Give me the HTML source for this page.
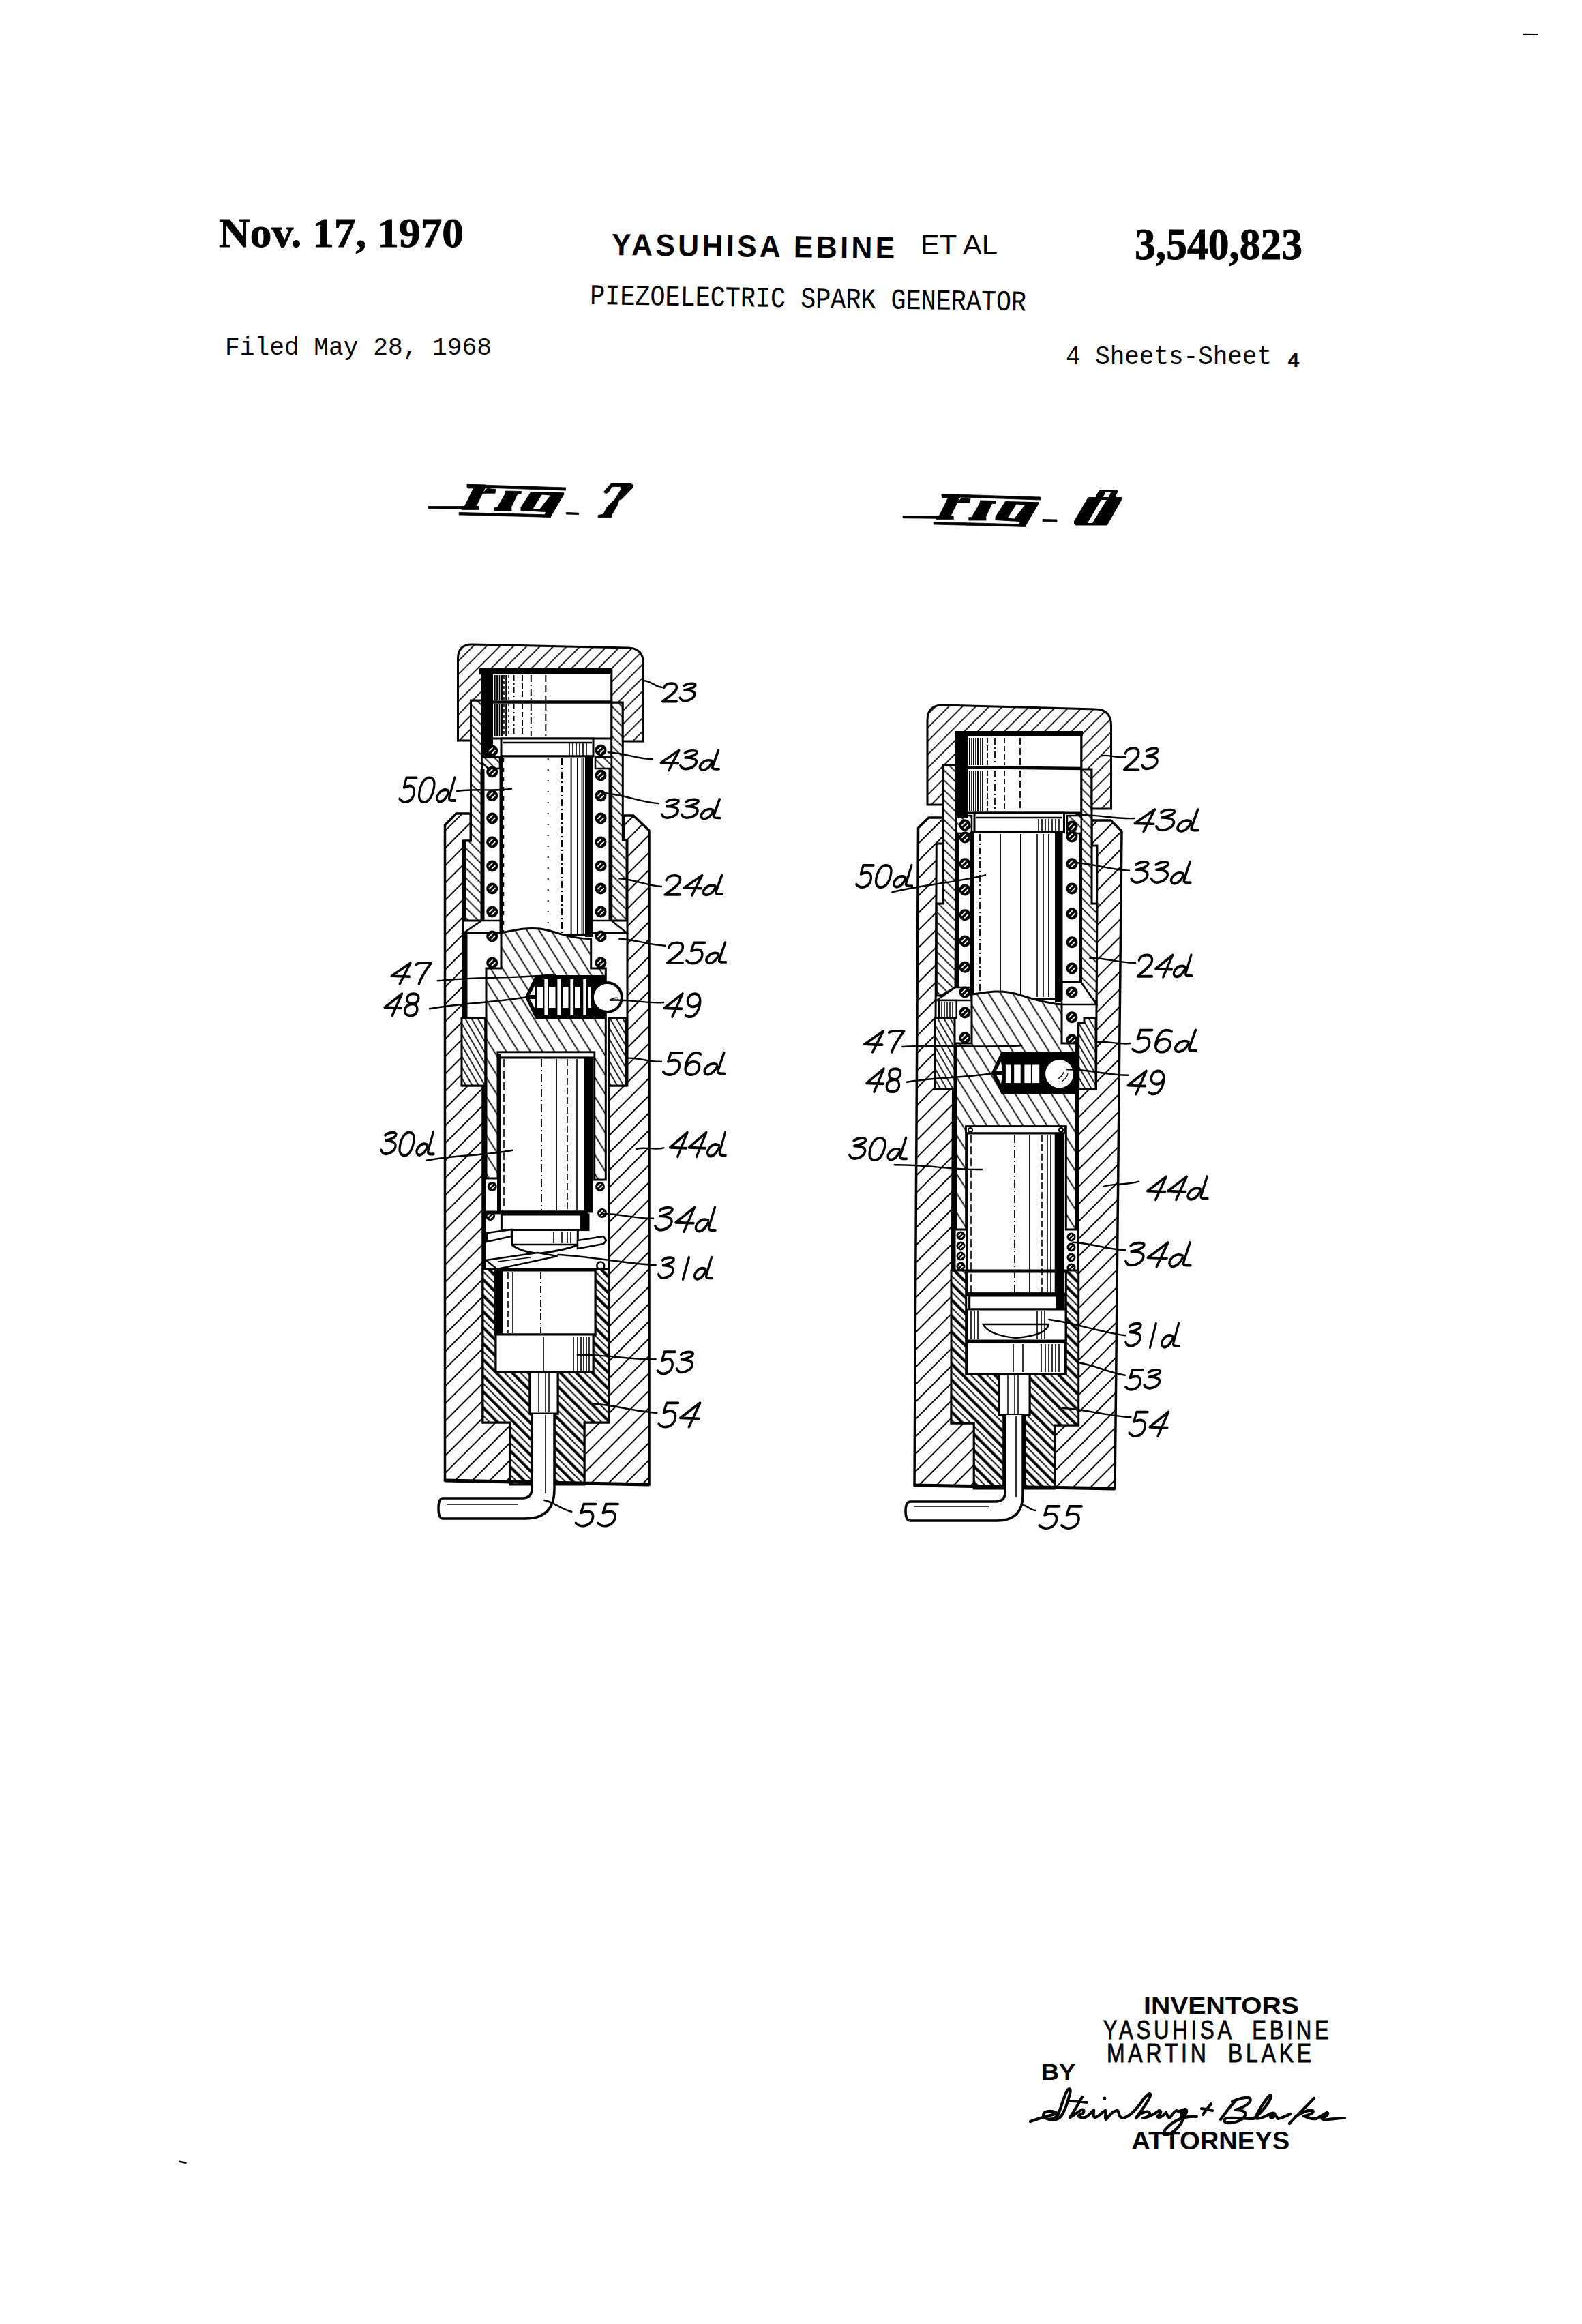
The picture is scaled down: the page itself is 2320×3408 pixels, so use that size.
<!DOCTYPE html>
<html><head><meta charset="utf-8"><title>Patent 3,540,823 - Piezoelectric Spark Generator</title>
<style>
html,body{margin:0;padding:0;background:#fff;}
body{width:2320px;height:3408px;overflow:hidden;position:relative;}
svg{position:absolute;left:0;top:0;}
.serifb{font-family:"Liberation Serif",serif;font-weight:bold;}
.sansb{font-family:"Liberation Sans",sans-serif;font-weight:bold;}
.sans{font-family:"Liberation Sans",sans-serif;}
.mono{font-family:"Liberation Mono",monospace;}
.monob{font-family:"Liberation Mono",monospace;font-weight:bold;}
.lbl{font-family:"Liberation Sans",sans-serif;font-style:italic;}
</style></head>
<body>
<svg width="2320" height="3408" viewBox="0 0 2320 3408">
<defs>
<pattern id="hHouse" patternUnits="userSpaceOnUse" width="20" height="18.00" patternTransform="rotate(-45)"><rect width="20" height="18.00" fill="#fff"/><line x1="0" y1="9.00" x2="20" y2="9.00" stroke="#000" stroke-width="2.0"/></pattern>
<pattern id="hCap" patternUnits="userSpaceOnUse" width="20" height="13.90" patternTransform="rotate(-45)"><rect width="20" height="13.90" fill="#fff"/><line x1="0" y1="6.95" x2="20" y2="6.95" stroke="#000" stroke-width="1.7"/></pattern>
<pattern id="hSleeve" patternUnits="userSpaceOnUse" width="20" height="10.30" patternTransform="rotate(45)"><rect width="20" height="10.30" fill="#fff"/><line x1="0" y1="5.15" x2="20" y2="5.15" stroke="#000" stroke-width="1.7"/></pattern>
<pattern id="hSlider" patternUnits="userSpaceOnUse" width="20" height="15.00" patternTransform="rotate(58)"><rect width="20" height="15.00" fill="#fff"/><line x1="0" y1="7.50" x2="20" y2="7.50" stroke="#000" stroke-width="1.8"/></pattern>
<pattern id="h56" patternUnits="userSpaceOnUse" width="20" height="8.00" patternTransform="rotate(60)"><rect width="20" height="8.00" fill="#fff"/><line x1="0" y1="4.00" x2="20" y2="4.00" stroke="#000" stroke-width="1.7"/></pattern>
<pattern id="hIns" patternUnits="userSpaceOnUse" width="20" height="16.60" patternTransform="rotate(45)"><rect width="20" height="16.60" fill="#fff"/><line x1="0" y1="4.15" x2="20" y2="4.15" stroke="#000" stroke-width="1.8"/><line x1="0" y1="12.45" x2="20" y2="12.45" stroke="#000" stroke-width="4.2"/></pattern>
<pattern id="hCoil" patternUnits="userSpaceOnUse" width="20" height="4.60" patternTransform="rotate(-45)"><rect width="20" height="4.60" fill="#fff"/><line x1="0" y1="2.30" x2="20" y2="2.30" stroke="#000" stroke-width="1.6"/></pattern>
</defs>
<rect width="2320" height="3408" fill="#fff"/>
<text class="serifb" stroke="#000" stroke-width="0.9" x="321" y="362" font-size="62" textLength="359" lengthAdjust="spacingAndGlyphs">Nov. 17, 1970</text>
<text class="sansb" xml:space="preserve" transform="rotate(0.72 897 374) translate(897,374) scale(0.95,1)" x="0" y="0" font-size="45" textLength="436.8" lengthAdjust="spacing">YASUHISA EBINE</text>
<text class="sans" x="1350" y="373" font-size="40" textLength="113" lengthAdjust="spacingAndGlyphs">ET AL</text>
<text class="serifb" stroke="#000" stroke-width="0.9" x="1664" y="379.5" font-size="65" textLength="246" lengthAdjust="spacingAndGlyphs">3,540,823</text>
<text class="mono" transform="rotate(0.85 865 446)" x="865" y="446" font-size="42" textLength="640" lengthAdjust="spacingAndGlyphs">PIEZOELECTRIC SPARK GENERATOR</text>
<text class="mono" x="330" y="520" font-size="37" textLength="391" lengthAdjust="spacingAndGlyphs">Filed May 28, 1968</text>
<text class="mono" x="1563" y="534.4" font-size="39" textLength="302" lengthAdjust="spacingAndGlyphs">4 Sheets-Sheet</text>
<text class="monob" x="1888" y="538" font-size="30" textLength="18" lengthAdjust="spacingAndGlyphs">4</text>
<line x1="2233.0" y1="50.4" x2="2256.0" y2="50.6" stroke="#000" stroke-width="1.2" />
<line x1="2249.0" y1="51.0" x2="2256.0" y2="51.0" stroke="#000" stroke-width="2" />
<line x1="262.0" y1="3169.5" x2="273.5" y2="3172.0" stroke="#000" stroke-width="2.6" />
<path d="M628.0,742.6 L678.0,742.6 L678.0,746.2 L628.0,745.8 Z" fill="#000" stroke="#000" stroke-width="0.8" stroke-linejoin="miter" />
<path d="M685.0,710.4 L829.6,715.0 L829.6,719.0 L685.0,714.3 Z" fill="#000" stroke="#000" stroke-width="0.8" stroke-linejoin="miter" />
<path d="M685.0,710.4 L711.5,711.0 L711.5,715.9 L686.0,715.9 Z" fill="#000" stroke="#000" stroke-width="0.8" stroke-linejoin="miter" />
<path d="M694.7,715.5 L711.4,715.5 L698.0,743.1 L681.0,743.1 Z" fill="#000" stroke="#000" stroke-width="0.8" stroke-linejoin="miter" />
<path d="M677.0,742.4 L702.0,742.4 L702.5,747.4 L677.0,747.4 Z" fill="#000" stroke="#000" stroke-width="0.8" stroke-linejoin="miter" />
<path d="M714.0,716.2 L727.0,717.5 L726.0,723.3 L708.0,723.3 Z" fill="#000" stroke="#000" stroke-width="0.8" stroke-linejoin="miter" />
<path d="M741.5,720.0 L764.6,720.5 L764.0,724.5 L741.0,724.5 Z" fill="#000" stroke="#000" stroke-width="0.8" stroke-linejoin="miter" />
<path d="M741.0,724.0 L759.0,724.0 L749.0,745.3 L728.6,745.3 Z" fill="#000" stroke="#000" stroke-width="0.8" stroke-linejoin="miter" />
<path d="M724.8,744.6 L750.0,744.6 L750.0,749.0 L724.8,749.0 Z" fill="#000" stroke="#000" stroke-width="0.8" stroke-linejoin="miter" />
<path d="M778.5,721.1 L826.9,722.2 L827.5,724.5 L807.6,758.2 L796.8,758.2 L800.0,751.0 L763.5,749.0 L763.5,744.0 L778.5,721.1 Z M794.6,725.4 L807.0,726.5 L791.4,746.4 L781.8,745.8 Z" fill="#000" fill-rule="evenodd"/>
<path d="M673.2,751.4 L807.6,755.0 L807.6,758.4 L673.2,755.0 Z" fill="#000" stroke="#000" stroke-width="0.8" stroke-linejoin="miter" />
<path d="M830.4,751.4 L848.6,752.2 L848.6,754.6 L830.4,754.0 Z" fill="#000" stroke="#000" stroke-width="0.8" stroke-linejoin="miter" />
<path d="M896.4,709.1 L924.7,709.1 L928.8,711.6 L927.8,715.2 L911.6,731.9 L908.0,732.9 L905.0,741.5 L896.9,755.6 L896.9,758.7 L877.2,758.7 L877.2,755.6 L884.8,754.1 L890.3,743.5 L902.0,731.9 L910.6,717.7 L910.0,713.4 L897.4,713.7 L892.4,721.7 L888.8,723.8 L886.3,722.3 L886.3,720.2 L894.4,711.1 Z" fill="#000" stroke="#000" stroke-width="0.8" stroke-linejoin="miter" />
<path d="M1324.0,756.6 L1374.0,756.6 L1374.0,760.2 L1324.0,759.8 Z" fill="#000" stroke="#000" stroke-width="0.8" stroke-linejoin="miter" />
<path d="M1381.0,724.4 L1525.6,729.0 L1525.6,733.0 L1381.0,728.3 Z" fill="#000" stroke="#000" stroke-width="0.8" stroke-linejoin="miter" />
<path d="M1381.0,724.4 L1407.5,725.0 L1407.5,729.9 L1382.0,729.9 Z" fill="#000" stroke="#000" stroke-width="0.8" stroke-linejoin="miter" />
<path d="M1390.7,729.5 L1407.4,729.5 L1394.0,757.1 L1377.0,757.1 Z" fill="#000" stroke="#000" stroke-width="0.8" stroke-linejoin="miter" />
<path d="M1373.0,756.4 L1398.0,756.4 L1398.5,761.4 L1373.0,761.4 Z" fill="#000" stroke="#000" stroke-width="0.8" stroke-linejoin="miter" />
<path d="M1410.0,730.2 L1423.0,731.5 L1422.0,737.3 L1404.0,737.3 Z" fill="#000" stroke="#000" stroke-width="0.8" stroke-linejoin="miter" />
<path d="M1437.5,734.0 L1460.6,734.5 L1460.0,738.5 L1437.0,738.5 Z" fill="#000" stroke="#000" stroke-width="0.8" stroke-linejoin="miter" />
<path d="M1437.0,738.0 L1455.0,738.0 L1445.0,759.3 L1424.6,759.3 Z" fill="#000" stroke="#000" stroke-width="0.8" stroke-linejoin="miter" />
<path d="M1420.8,758.6 L1446.0,758.6 L1446.0,763.0 L1420.8,763.0 Z" fill="#000" stroke="#000" stroke-width="0.8" stroke-linejoin="miter" />
<path d="M1474.5,735.1 L1522.9,736.2 L1523.5,738.5 L1503.6,772.2 L1492.8,772.2 L1496.0,765.0 L1459.5,763.0 L1459.5,758.0 L1474.5,735.1 Z M1490.6,739.4 L1503.0,740.5 L1487.4,760.4 L1477.8,759.8 Z" fill="#000" fill-rule="evenodd"/>
<path d="M1369.2,765.4 L1503.6,769.0 L1503.6,772.4 L1369.2,769.0 Z" fill="#000" stroke="#000" stroke-width="0.8" stroke-linejoin="miter" />
<path d="M1529.0,761.5 L1550.0,762.0 L1550.0,765.0 L1529.0,764.5 Z" fill="#000" stroke="#000" stroke-width="0.8" stroke-linejoin="miter" />
<path d="M1614.5,718.0 L1637.8,718.0 L1639.8,720.0 L1636.1,727.4 L1637.2,729.1 L1644.9,729.1 L1644.9,733.3 L1623.6,770.6 L1577.5,770.6 L1575.0,767.7 L1575.0,764.3 L1595.1,730.2 L1596.9,729.1 L1607.1,729.1 L1608.2,725.1 L1612.2,719.1 Z M1621.0,722.0 L1629.0,722.0 L1625.9,729.1 L1617.9,729.1 Z M1615.0,733.0 L1623.0,733.0 L1602.0,766.9 L1594.9,766.9 Z" fill="#000" fill-rule="evenodd"/>
<path d="M652.5,1210.0 L669.0,1193.0 L690.0,1193.0 L915.0,1196.0 L929.0,1196.0 L952.0,1218.0 L952.0,2177.0 L652.5,2171.0 Z M690.0,1193.0 L915.0,1196.0 L915.0,1232.0 L920.0,1232.0 L920.0,1592.0 L893.0,1592.0 L893.0,2086.0 L857.0,2086.0 L857.0,2177.0 L748.0,2177.0 L748.0,2086.0 L708.0,2086.0 L708.0,1592.0 L679.0,1592.0 L679.0,1233.0 L690.0,1233.0 Z" fill="url(#hHouse)" fill-rule="evenodd" stroke="none"/>
<polyline points="690,1193 669,1193 652.5,1210 652.5,2171 952,2177 952,1218 929,1196 915,1196" fill="none" stroke="#000" stroke-width="3.5"/>
<polyline points="690.0,1193.0 690.0,1233.0 679.0,1233.0 679.0,1592.0 708.0,1592.0 708.0,2086.0 748.0,2086.0 748.0,2177.0" fill="none" stroke="#000" stroke-width="3"/>
<polyline points="915.0,1196.0 915.0,1232.0 920.0,1232.0 920.0,1592.0 893.0,1592.0 893.0,2086.0 857.0,2086.0 857.0,2177.0" fill="none" stroke="#000" stroke-width="3"/>
<path d="M690.5,1027.0 L706.5,1027.0 L706.5,1350.0 L680.0,1350.0 L680.0,1233.0 L690.5,1233.0 Z" fill="url(#hSleeve)" stroke="#000" stroke-width="3" stroke-linejoin="miter" />
<path d="M896.7,1030.0 L913.3,1030.0 L913.3,1232.0 L919.0,1232.0 L919.0,1350.0 L896.7,1350.0 Z" fill="url(#hSleeve)" stroke="#000" stroke-width="3" stroke-linejoin="miter" />
<path d="M706.5,1110.0 L733.0,1110.0 L733.0,1127.0 L716.0,1127.0 L706.5,1118.0 Z" fill="url(#hSleeve)" stroke="#000" stroke-width="2.5" stroke-linejoin="miter" />
<path d="M873.0,1110.0 L896.7,1110.0 L896.7,1127.0 L873.0,1127.0 Z" fill="url(#hSleeve)" stroke="#000" stroke-width="2.5" stroke-linejoin="miter" />
<path d="M680.0,1368.0 L735.0,1368.0 L735.0,1350.0 L706.5,1350.0 Z" fill="#fff" stroke="#000" stroke-width="2.5" stroke-linejoin="miter" />
<path d="M866.7,1350.0 L896.7,1350.0 L919.0,1368.0 L866.7,1368.0 Z" fill="#fff" stroke="#000" stroke-width="2.5" stroke-linejoin="miter" />
<path d="M671.5,1086 L671.5,966 Q671.5,945 692,945 L920,950 Q943.5,950 943.5,973 L943.5,1087 L913.3,1087 L913.3,1030 L896.7,1030 L896.7,983 L706.5,983 L706.5,1027 L690.5,1027 L690.5,1086 Z" fill="url(#hCap)" stroke="#000" stroke-width="3"/>
<rect x="706.5" y="983.0" width="190.2" height="100.0" fill="#fff" stroke="#000" stroke-width="3" />
<rect x="703" y="980" width="195" height="9" fill="#000"/>
<rect x="705" y="983" width="18" height="125" fill="#000"/>
<line x1="706.5" y1="1029.5" x2="896.7" y2="1029.5" stroke="#000" stroke-width="4.5" />
<line x1="725.7" y1="990.0" x2="725.7" y2="1027.0" stroke="#000" stroke-width="2" />
<line x1="725.7" y1="1032.0" x2="725.7" y2="1080.0" stroke="#000" stroke-width="2" />
<line x1="728.0" y1="990.0" x2="728.0" y2="1027.0" stroke="#000" stroke-width="1.6" />
<line x1="728.0" y1="1032.0" x2="728.0" y2="1080.0" stroke="#000" stroke-width="1.6" />
<line x1="729.5" y1="990.0" x2="729.5" y2="1027.0" stroke="#000" stroke-width="2" />
<line x1="729.5" y1="1032.0" x2="729.5" y2="1080.0" stroke="#000" stroke-width="2" />
<line x1="732.5" y1="990.0" x2="732.5" y2="1027.0" stroke="#000" stroke-width="1.6" />
<line x1="732.5" y1="1032.0" x2="732.5" y2="1080.0" stroke="#000" stroke-width="1.6" />
<line x1="735.9" y1="990.0" x2="735.9" y2="1027.0" stroke="#000" stroke-width="2.2" />
<line x1="735.9" y1="1032.0" x2="735.9" y2="1080.0" stroke="#000" stroke-width="2.2" />
<line x1="739.0" y1="990.0" x2="739.0" y2="1027.0" stroke="#000" stroke-width="1.6" stroke-dasharray="5 3"/>
<line x1="739.0" y1="1032.0" x2="739.0" y2="1080.0" stroke="#000" stroke-width="1.6" stroke-dasharray="5 3"/>
<line x1="742.2" y1="990.0" x2="742.2" y2="1027.0" stroke="#000" stroke-width="2" />
<line x1="742.2" y1="1032.0" x2="742.2" y2="1080.0" stroke="#000" stroke-width="2" />
<line x1="746.0" y1="990.0" x2="746.0" y2="1027.0" stroke="#000" stroke-width="1.5" stroke-dasharray="4 4"/>
<line x1="746.0" y1="1032.0" x2="746.0" y2="1080.0" stroke="#000" stroke-width="1.5" stroke-dasharray="4 4"/>
<line x1="753.5" y1="990.0" x2="753.5" y2="1027.0" stroke="#000" stroke-width="2" stroke-dasharray="8 4 2 4"/>
<line x1="753.5" y1="1032.0" x2="753.5" y2="1080.0" stroke="#000" stroke-width="2" stroke-dasharray="8 4 2 4"/>
<line x1="766.0" y1="990.0" x2="766.0" y2="1027.0" stroke="#000" stroke-width="2" stroke-dasharray="8 4"/>
<line x1="766.0" y1="1032.0" x2="766.0" y2="1080.0" stroke="#000" stroke-width="2" stroke-dasharray="8 4"/>
<line x1="778.8" y1="990.0" x2="778.8" y2="1027.0" stroke="#000" stroke-width="2" stroke-dasharray="10 4 2 4"/>
<line x1="778.8" y1="1032.0" x2="778.8" y2="1080.0" stroke="#000" stroke-width="2" stroke-dasharray="10 4 2 4"/>
<line x1="800.3" y1="990.0" x2="800.3" y2="1027.0" stroke="#000" stroke-width="2" stroke-dasharray="10 5"/>
<line x1="800.3" y1="1032.0" x2="800.3" y2="1080.0" stroke="#000" stroke-width="2" stroke-dasharray="10 5"/>
<rect x="735.0" y="1083.0" width="135.0" height="26.0" fill="#fff" stroke="#000" stroke-width="3" />
<line x1="737.0" y1="1089.0" x2="868.0" y2="1089.0" stroke="#000" stroke-width="2.5" />
<line x1="835.0" y1="1090.0" x2="835.0" y2="1108.0" stroke="#000" stroke-width="1.6" />
<line x1="840.0" y1="1090.0" x2="840.0" y2="1108.0" stroke="#000" stroke-width="1.6" />
<line x1="845.0" y1="1090.0" x2="845.0" y2="1108.0" stroke="#000" stroke-width="1.6" />
<line x1="850.0" y1="1090.0" x2="850.0" y2="1108.0" stroke="#000" stroke-width="1.6" />
<line x1="855.0" y1="1090.0" x2="855.0" y2="1108.0" stroke="#000" stroke-width="1.6" />
<line x1="860.0" y1="1090.0" x2="860.0" y2="1108.0" stroke="#000" stroke-width="1.6" />
<rect x="735.0" y="1109.0" width="133.0" height="262.0" fill="#fff" stroke="#000" stroke-width="3" />
<rect x="858" y="1109" width="11" height="265" fill="#000"/>
<line x1="738.5" y1="1112.0" x2="738.5" y2="1370.0" stroke="#000" stroke-width="1.5" stroke-dasharray="6 8"/>
<line x1="803.7" y1="1112.0" x2="803.7" y2="1370.0" stroke="#000" stroke-width="2" stroke-dasharray="2 14"/>
<line x1="824.0" y1="1112.0" x2="824.0" y2="1370.0" stroke="#000" stroke-width="2" stroke-dasharray="10 4 2 4"/>
<line x1="837.6" y1="1112.0" x2="837.6" y2="1370.0" stroke="#000" stroke-width="2" />
<line x1="847.0" y1="1112.0" x2="847.0" y2="1370.0" stroke="#000" stroke-width="2" />
<line x1="853.5" y1="1112.0" x2="853.5" y2="1370.0" stroke="#000" stroke-width="1.8" />
<line x1="856.0" y1="1112.0" x2="856.0" y2="1370.0" stroke="#000" stroke-width="1.5" />
<line x1="735.0" y1="1109.0" x2="735.0" y2="1370.0" stroke="#000" stroke-width="5" />
<line x1="707.5" y1="1127.0" x2="707.5" y2="1350.0" stroke="#000" stroke-width="6" />
<line x1="895.0" y1="1127.0" x2="895.0" y2="1350.0" stroke="#000" stroke-width="5" />
<line x1="681.0" y1="1233.0" x2="681.0" y2="1350.0" stroke="#000" stroke-width="4.5" />
<circle cx="721.7" cy="1101.0" r="8.5" fill="#000"/><line x1="717.0" y1="1101.9" x2="722.6" y2="1096.3" stroke="#fff" stroke-width="1.8"/><line x1="720.8" y1="1105.7" x2="726.4" y2="1100.1" stroke="#fff" stroke-width="1.8"/>
<circle cx="721.7" cy="1132.0" r="8.5" fill="#000"/><line x1="717.0" y1="1132.9" x2="722.6" y2="1127.3" stroke="#fff" stroke-width="1.8"/><line x1="720.8" y1="1136.7" x2="726.4" y2="1131.1" stroke="#fff" stroke-width="1.8"/>
<circle cx="721.7" cy="1166.7" r="8.5" fill="#000"/><line x1="717.0" y1="1167.6" x2="722.6" y2="1162.0" stroke="#fff" stroke-width="1.8"/><line x1="720.8" y1="1171.4" x2="726.4" y2="1165.8" stroke="#fff" stroke-width="1.8"/>
<circle cx="721.7" cy="1200.0" r="8.5" fill="#000"/><line x1="717.0" y1="1200.9" x2="722.6" y2="1195.3" stroke="#fff" stroke-width="1.8"/><line x1="720.8" y1="1204.7" x2="726.4" y2="1199.1" stroke="#fff" stroke-width="1.8"/>
<circle cx="721.7" cy="1235.0" r="8.5" fill="#000"/><line x1="717.0" y1="1235.9" x2="722.6" y2="1230.3" stroke="#fff" stroke-width="1.8"/><line x1="720.8" y1="1239.7" x2="726.4" y2="1234.1" stroke="#fff" stroke-width="1.8"/>
<circle cx="721.7" cy="1270.0" r="8.5" fill="#000"/><line x1="717.0" y1="1270.9" x2="722.6" y2="1265.3" stroke="#fff" stroke-width="1.8"/><line x1="720.8" y1="1274.7" x2="726.4" y2="1269.1" stroke="#fff" stroke-width="1.8"/>
<circle cx="721.7" cy="1303.0" r="8.5" fill="#000"/><line x1="717.0" y1="1303.9" x2="722.6" y2="1298.3" stroke="#fff" stroke-width="1.8"/><line x1="720.8" y1="1307.7" x2="726.4" y2="1302.1" stroke="#fff" stroke-width="1.8"/>
<circle cx="721.7" cy="1337.0" r="8.5" fill="#000"/><line x1="717.0" y1="1337.9" x2="722.6" y2="1332.3" stroke="#fff" stroke-width="1.8"/><line x1="720.8" y1="1341.7" x2="726.4" y2="1336.1" stroke="#fff" stroke-width="1.8"/>
<circle cx="721.7" cy="1373.0" r="8.5" fill="#000"/><line x1="717.0" y1="1373.9" x2="722.6" y2="1368.3" stroke="#fff" stroke-width="1.8"/><line x1="720.8" y1="1377.7" x2="726.4" y2="1372.1" stroke="#fff" stroke-width="1.8"/>
<circle cx="721.7" cy="1412.0" r="8.5" fill="#000"/><line x1="717.0" y1="1412.9" x2="722.6" y2="1407.3" stroke="#fff" stroke-width="1.8"/><line x1="720.8" y1="1416.7" x2="726.4" y2="1411.1" stroke="#fff" stroke-width="1.8"/>
<circle cx="881.0" cy="1100.0" r="8.5" fill="#000"/><line x1="876.3" y1="1100.9" x2="881.9" y2="1095.3" stroke="#fff" stroke-width="1.8"/><line x1="880.1" y1="1104.7" x2="885.7" y2="1099.1" stroke="#fff" stroke-width="1.8"/>
<circle cx="881.0" cy="1137.0" r="8.5" fill="#000"/><line x1="876.3" y1="1137.9" x2="881.9" y2="1132.3" stroke="#fff" stroke-width="1.8"/><line x1="880.1" y1="1141.7" x2="885.7" y2="1136.1" stroke="#fff" stroke-width="1.8"/>
<circle cx="881.0" cy="1167.0" r="8.5" fill="#000"/><line x1="876.3" y1="1167.9" x2="881.9" y2="1162.3" stroke="#fff" stroke-width="1.8"/><line x1="880.1" y1="1171.7" x2="885.7" y2="1166.1" stroke="#fff" stroke-width="1.8"/>
<circle cx="881.0" cy="1200.0" r="8.5" fill="#000"/><line x1="876.3" y1="1200.9" x2="881.9" y2="1195.3" stroke="#fff" stroke-width="1.8"/><line x1="880.1" y1="1204.7" x2="885.7" y2="1199.1" stroke="#fff" stroke-width="1.8"/>
<circle cx="881.0" cy="1235.0" r="8.5" fill="#000"/><line x1="876.3" y1="1235.9" x2="881.9" y2="1230.3" stroke="#fff" stroke-width="1.8"/><line x1="880.1" y1="1239.7" x2="885.7" y2="1234.1" stroke="#fff" stroke-width="1.8"/>
<circle cx="881.0" cy="1270.0" r="8.5" fill="#000"/><line x1="876.3" y1="1270.9" x2="881.9" y2="1265.3" stroke="#fff" stroke-width="1.8"/><line x1="880.1" y1="1274.7" x2="885.7" y2="1269.1" stroke="#fff" stroke-width="1.8"/>
<circle cx="881.0" cy="1303.0" r="8.5" fill="#000"/><line x1="876.3" y1="1303.9" x2="881.9" y2="1298.3" stroke="#fff" stroke-width="1.8"/><line x1="880.1" y1="1307.7" x2="885.7" y2="1302.1" stroke="#fff" stroke-width="1.8"/>
<circle cx="881.0" cy="1337.0" r="8.5" fill="#000"/><line x1="876.3" y1="1337.9" x2="881.9" y2="1332.3" stroke="#fff" stroke-width="1.8"/><line x1="880.1" y1="1341.7" x2="885.7" y2="1336.1" stroke="#fff" stroke-width="1.8"/>
<circle cx="881.0" cy="1373.0" r="8.5" fill="#000"/><line x1="876.3" y1="1373.9" x2="881.9" y2="1368.3" stroke="#fff" stroke-width="1.8"/><line x1="880.1" y1="1377.7" x2="885.7" y2="1372.1" stroke="#fff" stroke-width="1.8"/>
<circle cx="881.0" cy="1412.0" r="8.5" fill="#000"/><line x1="876.3" y1="1412.9" x2="881.9" y2="1407.3" stroke="#fff" stroke-width="1.8"/><line x1="880.1" y1="1416.7" x2="885.7" y2="1411.1" stroke="#fff" stroke-width="1.8"/>
<path d="M735,1368 C755,1364 770,1360 792,1362 C812,1364 830,1376 866.7,1377 L866.7,1420 L888.3,1420 L888.3,1730 L871.7,1730 L871.7,1543 L730,1543 L730,1728 L713,1728 L713,1420 L735,1420 Z" fill="url(#hSlider)" stroke="#000" stroke-width="3"/>
<path d="M786.0,1431.0 L888.0,1431.0 L888.0,1493.0 L786.0,1493.0 L771.0,1462.0 Z" fill="#000" stroke="#000" stroke-width="2" stroke-linejoin="miter" />
<rect x="787.5" y="1447" width="9.0" height="31" fill="#fff"/>
<rect x="805" y="1447" width="9.5" height="31" fill="#fff"/>
<rect x="825" y="1447" width="8.5" height="31" fill="#fff"/>
<rect x="843" y="1447" width="7.6" height="31" fill="#fff"/>
<rect x="862.4" y="1447" width="4.3" height="31" fill="#fff"/>
<rect x="798.4" y="1436" width="4.8" height="53" fill="#fff"/>
<rect x="817.4" y="1436" width="4.7" height="53" fill="#fff"/>
<rect x="836.4" y="1436" width="4.7" height="53" fill="#fff"/>
<rect x="855.3" y="1436" width="4.7" height="53" fill="#fff"/>
<path d="M777,1459 L784,1446 L785,1459 Z M777,1465 L784,1478 L785,1465 Z" fill="#fff"/>
<circle cx="890.4" cy="1462.5" r="21.5" fill="#fff" stroke="#000" stroke-width="4"/>
<path d="M895,1466 q8,-4 12,-2" fill="none" stroke="#000" stroke-width="1.5"/>
<path d="M677.0,1493.0 L711.7,1493.0 L711.7,1592.0 L677.0,1592.0 Z" fill="url(#h56)" stroke="#000" stroke-width="3" stroke-linejoin="miter" />
<path d="M893.0,1493.0 L918.3,1493.0 L918.3,1592.0 L893.0,1592.0 Z" fill="url(#h56)" stroke="#000" stroke-width="3" stroke-linejoin="miter" />
<line x1="682.0" y1="1368.0" x2="682.0" y2="1493.0" stroke="#000" stroke-width="7" />
<line x1="892.5" y1="1492.0" x2="892.5" y2="1860.0" stroke="#000" stroke-width="2" />
<line x1="709.5" y1="1592.0" x2="709.5" y2="2086.0" stroke="#000" stroke-width="6" />
<rect x="730.0" y="1543.0" width="141.7" height="8.0" fill="#fff" stroke="#000" stroke-width="2.5" />
<rect x="733.0" y="1551.0" width="135.0" height="226.0" fill="#fff" stroke="#000" stroke-width="3" />
<rect x="856.7" y="1551" width="11.6" height="226" fill="#000"/>
<line x1="731.5" y1="1545.0" x2="731.5" y2="1777.0" stroke="#000" stroke-width="5" />
<line x1="739.0" y1="1553.0" x2="739.0" y2="1775.0" stroke="#000" stroke-width="1.6" stroke-dasharray="12 5"/>
<line x1="794.0" y1="1553.0" x2="794.0" y2="1775.0" stroke="#000" stroke-width="1.8" stroke-dasharray="12 4 2 4"/>
<line x1="816.0" y1="1553.0" x2="816.0" y2="1775.0" stroke="#000" stroke-width="1.8" />
<line x1="832.0" y1="1553.0" x2="832.0" y2="1775.0" stroke="#000" stroke-width="1.6" stroke-dasharray="10 4"/>
<line x1="846.0" y1="1553.0" x2="846.0" y2="1775.0" stroke="#000" stroke-width="1.6" />
<circle cx="721.7" cy="1740.0" r="7" fill="#000"/><line x1="717.9" y1="1740.8" x2="722.5" y2="1736.2" stroke="#fff" stroke-width="1.8"/><line x1="720.9" y1="1743.8" x2="725.6" y2="1739.2" stroke="#fff" stroke-width="1.8"/>
<circle cx="880.0" cy="1740.0" r="7" fill="#000"/><line x1="876.1" y1="1740.8" x2="880.8" y2="1736.2" stroke="#fff" stroke-width="1.8"/><line x1="879.2" y1="1743.8" x2="883.9" y2="1739.2" stroke="#fff" stroke-width="1.8"/>
<circle cx="719.0" cy="1783.0" r="7" fill="#000"/><line x1="715.1" y1="1783.8" x2="719.8" y2="1779.2" stroke="#fff" stroke-width="1.8"/><line x1="718.2" y1="1786.8" x2="722.9" y2="1782.2" stroke="#fff" stroke-width="1.8"/>
<circle cx="883.0" cy="1779.0" r="7" fill="#000"/><line x1="879.1" y1="1779.8" x2="883.8" y2="1775.2" stroke="#fff" stroke-width="1.8"/><line x1="882.2" y1="1782.8" x2="886.9" y2="1778.2" stroke="#fff" stroke-width="1.8"/>
<line x1="712.0" y1="1778.0" x2="862.0" y2="1778.0" stroke="#000" stroke-width="5" />
<rect x="735.4" y="1781.0" width="127.6" height="22.6" fill="#fff" stroke="#000" stroke-width="3" />
<rect x="851" y="1781" width="12" height="22" fill="#000"/>
<path d="M751,1803.6 L847.3,1803.6 L847.3,1825.7 Q830,1833 790,1838.4 Q762,1835 751,1825.7 Z" fill="#fff" stroke="#000" stroke-width="3"/>
<line x1="751.0" y1="1825.0" x2="847.0" y2="1825.0" stroke="#000" stroke-width="2.5" />
<line x1="812.0" y1="1806.0" x2="812.0" y2="1823.0" stroke="#000" stroke-width="1.6" />
<line x1="824.0" y1="1806.0" x2="824.0" y2="1823.0" stroke="#000" stroke-width="1.6" />
<line x1="832.0" y1="1806.0" x2="832.0" y2="1823.0" stroke="#000" stroke-width="1.6" />
<line x1="837.0" y1="1806.0" x2="837.0" y2="1823.0" stroke="#000" stroke-width="1.6" />
<path d="M714.0,1808.0 L750.0,1803.0 L750.0,1813.0 L714.0,1821.0 Z" fill="#fff" stroke="#000" stroke-width="2.5" stroke-linejoin="miter" />
<path d="M847.0,1819.0 L885.0,1813.0 L889.0,1819.0 L885.0,1824.0 L847.0,1831.0 Z" fill="#fff" stroke="#000" stroke-width="2.5" stroke-linejoin="miter" />
<path d="M712.6,1848.0 L788.5,1837.0 L817.6,1842.0 L729.0,1861.0 Z" fill="#fff" stroke="#000" stroke-width="2.5" stroke-linejoin="miter" />
<line x1="730.0" y1="1850.0" x2="778.0" y2="1844.0" stroke="#000" stroke-width="1.3" />
<circle cx="880.8" cy="1856" r="5.5" fill="#fff" stroke="#000" stroke-width="2.5"/>
<path d="M708.0,1861.0 L893.0,1861.0 L893.0,2086.0 L857.0,2086.0 L857.0,2177.0 L748.0,2177.0 L748.0,2086.0 L708.0,2086.0 Z M735.0,1863.0 L873.0,1863.0 L873.0,1957.0 L870.0,1957.0 L870.0,2012.0 L818.0,2012.0 L818.0,2073.0 L813.0,2073.0 L813.0,2177.0 L780.0,2177.0 L780.0,2073.0 L777.0,2073.0 L777.0,2012.0 L727.0,2012.0 L727.0,1957.0 L735.0,1957.0 Z" fill="url(#hIns)" fill-rule="evenodd" stroke="#000" stroke-width="3"/>
<rect x="735.0" y="1863.0" width="138.0" height="94.0" fill="#fff" stroke="#000" stroke-width="3" />
<rect x="725" y="1863" width="12" height="94" fill="#000"/>
<line x1="745.0" y1="1866.0" x2="745.0" y2="1955.0" stroke="#000" stroke-width="1.6" stroke-dasharray="10 4"/>
<line x1="752.0" y1="1866.0" x2="752.0" y2="1955.0" stroke="#000" stroke-width="1.6" />
<line x1="793.0" y1="1866.0" x2="793.0" y2="1955.0" stroke="#000" stroke-width="1.8" stroke-dasharray="10 4 2 4"/>
<rect x="727.0" y="1957.0" width="143.0" height="55.0" fill="#fff" stroke="#000" stroke-width="3" />
<line x1="797.0" y1="1960.0" x2="797.0" y2="2010.0" stroke="#000" stroke-width="1.6" />
<line x1="841.0" y1="1960.0" x2="841.0" y2="2010.0" stroke="#000" stroke-width="1.6" />
<line x1="847.0" y1="1960.0" x2="847.0" y2="2010.0" stroke="#000" stroke-width="1.6" />
<line x1="852.0" y1="1960.0" x2="852.0" y2="2010.0" stroke="#000" stroke-width="1.6" />
<line x1="856.0" y1="1960.0" x2="856.0" y2="2010.0" stroke="#000" stroke-width="1.6" />
<line x1="860.0" y1="1960.0" x2="860.0" y2="2010.0" stroke="#000" stroke-width="1.6" />
<line x1="864.0" y1="1960.0" x2="864.0" y2="2010.0" stroke="#000" stroke-width="1.6" />
<rect x="777.0" y="2012.0" width="41.0" height="61.0" fill="#fff" stroke="#000" stroke-width="3" />
<line x1="790.0" y1="2014.0" x2="790.0" y2="2071.0" stroke="#000" stroke-width="1.5" />
<line x1="800.0" y1="2014.0" x2="800.0" y2="2071.0" stroke="#000" stroke-width="1.5" />
<line x1="805.0" y1="2014.0" x2="805.0" y2="2071.0" stroke="#000" stroke-width="1.5" />
<line x1="652.5" y1="2171.0" x2="952.0" y2="2177.0" stroke="#000" stroke-width="5" />
<path d="M780,2073 L780,2183 Q780,2197 766,2197 L650,2197 Q643,2197 643,2212 Q643,2227 650,2227 L770,2227 Q813,2227 813,2184 L813,2073" fill="#fff" stroke="#000" stroke-width="3.5"/>
<line x1="800.0" y1="2075.0" x2="800.0" y2="2190.0" stroke="#000" stroke-width="1.6" />
<line x1="655.0" y1="2206.0" x2="760.0" y2="2206.0" stroke="#000" stroke-width="1.5" />
<path d="M1346.5,1214.0 L1362.0,1199.0 L1383.5,1199.0 L1601.0,1203.0 L1629.0,1203.0 L1645.0,1219.0 L1635.0,2183.0 L1341.0,2178.0 Z M1383.5,1199.0 L1601.0,1203.0 L1601.0,1240.0 L1609.0,1240.0 L1607.5,1597.0 L1581.0,1597.0 L1581.5,2090.0 L1546.7,2090.0 L1546.7,2183.0 L1428.3,2183.0 L1428.3,2087.0 L1395.0,2087.0 L1397.5,1597.0 L1371.5,1597.0 L1373.3,1237.0 L1383.5,1237.0 Z" fill="url(#hHouse)" fill-rule="evenodd" stroke="none"/>
<polyline points="1383.5,1199 1362,1199 1346.5,1214 1341,2178 1635,2183 1645,1219 1629,1203 1601,1203" fill="none" stroke="#000" stroke-width="3.5"/>
<polyline points="1383.5,1199.0 1383.5,1237.0 1373.3,1237.0 1371.5,1597.0 1397.5,1597.0 1395.0,2087.0 1428.3,2087.0 1428.3,2183.0" fill="none" stroke="#000" stroke-width="3"/>
<polyline points="1601.0,1203.0 1601.0,1240.0 1609.0,1240.0 1607.5,1597.0 1581.0,1597.0 1581.5,2090.0 1546.7,2090.0 1546.7,2183.0" fill="none" stroke="#000" stroke-width="3"/>
<path d="M1383.5,1122.0 L1402.7,1122.0 L1401.0,1448.0 L1380.0,1460.0 L1373.3,1460.0 L1373.3,1325.0 L1383.5,1325.0 Z" fill="url(#hSleeve)" stroke="#000" stroke-width="3" stroke-linejoin="miter" />
<path d="M1585.8,1125.0 L1601.0,1125.0 L1601.0,1325.0 L1609.0,1325.0 L1608.0,1473.0 L1585.0,1440.0 Z" fill="url(#hSleeve)" stroke="#000" stroke-width="3" stroke-linejoin="miter" />
<path d="M1373.3,1467.0 L1425.0,1467.0 L1425.0,1448.0 L1401.0,1448.0 Z" fill="#fff" stroke="#000" stroke-width="2.5" stroke-linejoin="miter" />
<path d="M1557.0,1440.0 L1585.0,1440.0 L1608.0,1473.0 L1557.0,1473.0 Z" fill="#fff" stroke="#000" stroke-width="2.5" stroke-linejoin="miter" />
<rect x="1376.7" y="1467.0" width="26.0" height="26.0" fill="#fff" stroke="#000" stroke-width="2.5" />
<line x1="1381.0" y1="1469.0" x2="1381.0" y2="1491.0" stroke="#000" stroke-width="1.5" />
<line x1="1385.0" y1="1469.0" x2="1385.0" y2="1491.0" stroke="#000" stroke-width="1.5" />
<line x1="1389.0" y1="1469.0" x2="1389.0" y2="1491.0" stroke="#000" stroke-width="1.5" />
<line x1="1393.0" y1="1469.0" x2="1393.0" y2="1491.0" stroke="#000" stroke-width="1.5" />
<line x1="1397.0" y1="1469.0" x2="1397.0" y2="1491.0" stroke="#000" stroke-width="1.5" />
<path d="M1402.7,1196.0 L1425.0,1196.0 L1425.0,1222.0 L1402.7,1222.0 Z" fill="url(#hSleeve)" stroke="#000" stroke-width="2.5" stroke-linejoin="miter" />
<path d="M1565.0,1196.0 L1585.8,1196.0 L1585.8,1222.0 L1565.0,1222.0 Z" fill="url(#hSleeve)" stroke="#000" stroke-width="2.5" stroke-linejoin="miter" />
<path d="M1360,1180 L1360,1056 Q1360,1034 1382.5,1034 L1606,1040 Q1629.5,1040 1629.5,1064 L1629.5,1186 L1601,1186 L1601,1128 L1585.8,1128 L1585.8,1075 L1402.7,1075 L1402.7,1122 L1383.5,1122 L1383.5,1180 Z" fill="url(#hCap)" stroke="#000" stroke-width="3"/>
<rect x="1402.7" y="1075.0" width="183.0" height="117.0" fill="#fff" stroke="#000" stroke-width="3" />
<rect x="1400" y="1072" width="188" height="8" fill="#000"/>
<rect x="1402" y="1075" width="17" height="124" fill="#000"/>
<line x1="1402.7" y1="1125.0" x2="1585.8" y2="1127.0" stroke="#000" stroke-width="4.5" />
<line x1="1422.0" y1="1082.0" x2="1422.0" y2="1122.0" stroke="#000" stroke-width="2" />
<line x1="1422.0" y1="1130.0" x2="1422.0" y2="1189.0" stroke="#000" stroke-width="2" />
<line x1="1425.0" y1="1082.0" x2="1425.0" y2="1122.0" stroke="#000" stroke-width="1.6" />
<line x1="1425.0" y1="1130.0" x2="1425.0" y2="1189.0" stroke="#000" stroke-width="1.6" />
<line x1="1428.0" y1="1082.0" x2="1428.0" y2="1122.0" stroke="#000" stroke-width="2" />
<line x1="1428.0" y1="1130.0" x2="1428.0" y2="1189.0" stroke="#000" stroke-width="2" />
<line x1="1431.0" y1="1082.0" x2="1431.0" y2="1122.0" stroke="#000" stroke-width="1.6" />
<line x1="1431.0" y1="1130.0" x2="1431.0" y2="1189.0" stroke="#000" stroke-width="1.6" />
<line x1="1434.0" y1="1082.0" x2="1434.0" y2="1122.0" stroke="#000" stroke-width="2" />
<line x1="1434.0" y1="1130.0" x2="1434.0" y2="1189.0" stroke="#000" stroke-width="2" />
<line x1="1438.0" y1="1082.0" x2="1438.0" y2="1122.0" stroke="#000" stroke-width="1.6" />
<line x1="1438.0" y1="1130.0" x2="1438.0" y2="1189.0" stroke="#000" stroke-width="1.6" />
<line x1="1441.0" y1="1082.0" x2="1441.0" y2="1122.0" stroke="#000" stroke-width="1.8" />
<line x1="1441.0" y1="1130.0" x2="1441.0" y2="1189.0" stroke="#000" stroke-width="1.8" />
<line x1="1448.0" y1="1082.0" x2="1448.0" y2="1122.0" stroke="#000" stroke-width="1.8" stroke-dasharray="8 3"/>
<line x1="1448.0" y1="1130.0" x2="1448.0" y2="1189.0" stroke="#000" stroke-width="1.8" stroke-dasharray="8 3"/>
<line x1="1459.0" y1="1082.0" x2="1459.0" y2="1122.0" stroke="#000" stroke-width="1.8" stroke-dasharray="10 4 2 4"/>
<line x1="1459.0" y1="1130.0" x2="1459.0" y2="1189.0" stroke="#000" stroke-width="1.8" stroke-dasharray="10 4 2 4"/>
<line x1="1473.0" y1="1082.0" x2="1473.0" y2="1122.0" stroke="#000" stroke-width="1.8" stroke-dasharray="8 4"/>
<line x1="1473.0" y1="1130.0" x2="1473.0" y2="1189.0" stroke="#000" stroke-width="1.8" stroke-dasharray="8 4"/>
<line x1="1496.0" y1="1082.0" x2="1496.0" y2="1122.0" stroke="#000" stroke-width="1.8" stroke-dasharray="10 5"/>
<line x1="1496.0" y1="1130.0" x2="1496.0" y2="1189.0" stroke="#000" stroke-width="1.8" stroke-dasharray="10 5"/>
<rect x="1429.0" y="1192.0" width="131.5" height="28.0" fill="#fff" stroke="#000" stroke-width="3" />
<line x1="1431.0" y1="1199.0" x2="1558.0" y2="1199.0" stroke="#000" stroke-width="2.5" />
<line x1="1523.0" y1="1201.0" x2="1523.0" y2="1218.0" stroke="#000" stroke-width="1.6" />
<line x1="1528.0" y1="1201.0" x2="1528.0" y2="1218.0" stroke="#000" stroke-width="1.6" />
<line x1="1533.0" y1="1201.0" x2="1533.0" y2="1218.0" stroke="#000" stroke-width="1.6" />
<line x1="1538.0" y1="1201.0" x2="1538.0" y2="1218.0" stroke="#000" stroke-width="1.6" />
<line x1="1543.0" y1="1201.0" x2="1543.0" y2="1218.0" stroke="#000" stroke-width="1.6" />
<line x1="1548.0" y1="1201.0" x2="1548.0" y2="1218.0" stroke="#000" stroke-width="1.6" />
<line x1="1553.0" y1="1201.0" x2="1553.0" y2="1218.0" stroke="#000" stroke-width="1.6" />
<rect x="1425.0" y="1220.0" width="132.0" height="245.0" fill="#fff" stroke="#000" stroke-width="3" />
<rect x="1547" y="1220" width="10" height="250" fill="#000"/>
<line x1="1437.0" y1="1223.0" x2="1437.0" y2="1462.0" stroke="#000" stroke-width="1.8" stroke-dasharray="10 4 2 4"/>
<line x1="1467.0" y1="1223.0" x2="1467.0" y2="1462.0" stroke="#000" stroke-width="1.8" />
<line x1="1497.0" y1="1223.0" x2="1497.0" y2="1462.0" stroke="#000" stroke-width="2" />
<line x1="1521.0" y1="1223.0" x2="1521.0" y2="1462.0" stroke="#000" stroke-width="1.6" />
<line x1="1530.0" y1="1223.0" x2="1530.0" y2="1462.0" stroke="#000" stroke-width="1.6" />
<line x1="1538.0" y1="1223.0" x2="1538.0" y2="1462.0" stroke="#000" stroke-width="1.8" />
<line x1="1404.0" y1="1222.0" x2="1404.0" y2="1448.0" stroke="#000" stroke-width="6" />
<line x1="1584.5" y1="1222.0" x2="1584.5" y2="1440.0" stroke="#000" stroke-width="5" />
<line x1="1425.5" y1="1220.0" x2="1425.5" y2="1460.0" stroke="#000" stroke-width="5" />
<circle cx="1415.0" cy="1210.0" r="8.5" fill="#000"/><line x1="1410.3" y1="1210.9" x2="1415.9" y2="1205.3" stroke="#fff" stroke-width="1.8"/><line x1="1414.1" y1="1214.7" x2="1419.7" y2="1209.1" stroke="#fff" stroke-width="1.8"/>
<circle cx="1415.0" cy="1228.0" r="8.5" fill="#000"/><line x1="1410.3" y1="1228.9" x2="1415.9" y2="1223.3" stroke="#fff" stroke-width="1.8"/><line x1="1414.1" y1="1232.7" x2="1419.7" y2="1227.1" stroke="#fff" stroke-width="1.8"/>
<circle cx="1415.0" cy="1266.7" r="8.5" fill="#000"/><line x1="1410.3" y1="1267.6" x2="1415.9" y2="1262.0" stroke="#fff" stroke-width="1.8"/><line x1="1414.1" y1="1271.4" x2="1419.7" y2="1265.8" stroke="#fff" stroke-width="1.8"/>
<circle cx="1415.0" cy="1305.0" r="8.5" fill="#000"/><line x1="1410.3" y1="1305.9" x2="1415.9" y2="1300.3" stroke="#fff" stroke-width="1.8"/><line x1="1414.1" y1="1309.7" x2="1419.7" y2="1304.1" stroke="#fff" stroke-width="1.8"/>
<circle cx="1415.0" cy="1341.7" r="8.5" fill="#000"/><line x1="1410.3" y1="1342.6" x2="1415.9" y2="1337.0" stroke="#fff" stroke-width="1.8"/><line x1="1414.1" y1="1346.4" x2="1419.7" y2="1340.8" stroke="#fff" stroke-width="1.8"/>
<circle cx="1415.0" cy="1380.0" r="8.5" fill="#000"/><line x1="1410.3" y1="1380.9" x2="1415.9" y2="1375.3" stroke="#fff" stroke-width="1.8"/><line x1="1414.1" y1="1384.7" x2="1419.7" y2="1379.1" stroke="#fff" stroke-width="1.8"/>
<circle cx="1415.0" cy="1418.3" r="8.5" fill="#000"/><line x1="1410.3" y1="1419.2" x2="1415.9" y2="1413.6" stroke="#fff" stroke-width="1.8"/><line x1="1414.1" y1="1423.0" x2="1419.7" y2="1417.4" stroke="#fff" stroke-width="1.8"/>
<circle cx="1415.0" cy="1455.0" r="8.5" fill="#000"/><line x1="1410.3" y1="1455.9" x2="1415.9" y2="1450.3" stroke="#fff" stroke-width="1.8"/><line x1="1414.1" y1="1459.7" x2="1419.7" y2="1454.1" stroke="#fff" stroke-width="1.8"/>
<circle cx="1415.0" cy="1485.0" r="8.5" fill="#000"/><line x1="1410.3" y1="1485.9" x2="1415.9" y2="1480.3" stroke="#fff" stroke-width="1.8"/><line x1="1414.1" y1="1489.7" x2="1419.7" y2="1484.1" stroke="#fff" stroke-width="1.8"/>
<circle cx="1415.0" cy="1521.7" r="8.5" fill="#000"/><line x1="1410.3" y1="1522.6" x2="1415.9" y2="1517.0" stroke="#fff" stroke-width="1.8"/><line x1="1414.1" y1="1526.4" x2="1419.7" y2="1520.8" stroke="#fff" stroke-width="1.8"/>
<circle cx="1572.0" cy="1212.0" r="8.5" fill="#000"/><line x1="1567.3" y1="1212.9" x2="1572.9" y2="1207.3" stroke="#fff" stroke-width="1.8"/><line x1="1571.1" y1="1216.7" x2="1576.7" y2="1211.1" stroke="#fff" stroke-width="1.8"/>
<circle cx="1572.0" cy="1227.0" r="8.5" fill="#000"/><line x1="1567.3" y1="1227.9" x2="1572.9" y2="1222.3" stroke="#fff" stroke-width="1.8"/><line x1="1571.1" y1="1231.7" x2="1576.7" y2="1226.1" stroke="#fff" stroke-width="1.8"/>
<circle cx="1572.0" cy="1266.7" r="8.5" fill="#000"/><line x1="1567.3" y1="1267.6" x2="1572.9" y2="1262.0" stroke="#fff" stroke-width="1.8"/><line x1="1571.1" y1="1271.4" x2="1576.7" y2="1265.8" stroke="#fff" stroke-width="1.8"/>
<circle cx="1572.0" cy="1303.0" r="8.5" fill="#000"/><line x1="1567.3" y1="1303.9" x2="1572.9" y2="1298.3" stroke="#fff" stroke-width="1.8"/><line x1="1571.1" y1="1307.7" x2="1576.7" y2="1302.1" stroke="#fff" stroke-width="1.8"/>
<circle cx="1572.0" cy="1340.0" r="8.5" fill="#000"/><line x1="1567.3" y1="1340.9" x2="1572.9" y2="1335.3" stroke="#fff" stroke-width="1.8"/><line x1="1571.1" y1="1344.7" x2="1576.7" y2="1339.1" stroke="#fff" stroke-width="1.8"/>
<circle cx="1572.0" cy="1381.7" r="8.5" fill="#000"/><line x1="1567.3" y1="1382.6" x2="1572.9" y2="1377.0" stroke="#fff" stroke-width="1.8"/><line x1="1571.1" y1="1386.4" x2="1576.7" y2="1380.8" stroke="#fff" stroke-width="1.8"/>
<circle cx="1572.0" cy="1420.0" r="8.5" fill="#000"/><line x1="1567.3" y1="1420.9" x2="1572.9" y2="1415.3" stroke="#fff" stroke-width="1.8"/><line x1="1571.1" y1="1424.7" x2="1576.7" y2="1419.1" stroke="#fff" stroke-width="1.8"/>
<circle cx="1572.0" cy="1455.0" r="8.5" fill="#000"/><line x1="1567.3" y1="1455.9" x2="1572.9" y2="1450.3" stroke="#fff" stroke-width="1.8"/><line x1="1571.1" y1="1459.7" x2="1576.7" y2="1454.1" stroke="#fff" stroke-width="1.8"/>
<circle cx="1572.0" cy="1491.7" r="8.5" fill="#000"/><line x1="1567.3" y1="1492.6" x2="1572.9" y2="1487.0" stroke="#fff" stroke-width="1.8"/><line x1="1571.1" y1="1496.4" x2="1576.7" y2="1490.8" stroke="#fff" stroke-width="1.8"/>
<circle cx="1572.0" cy="1525.0" r="8.5" fill="#000"/><line x1="1567.3" y1="1525.9" x2="1572.9" y2="1520.3" stroke="#fff" stroke-width="1.8"/><line x1="1571.1" y1="1529.7" x2="1576.7" y2="1524.1" stroke="#fff" stroke-width="1.8"/>
<path d="M1425,1458 C1445,1456 1460,1452 1478,1455 C1500,1458 1520,1470 1557,1473 L1557,1530 L1578.3,1530 L1578.3,1803 L1563.3,1803 L1563.3,1651.7 L1416.7,1651.7 L1416.7,1803 L1401.7,1803 L1401.7,1530 L1425,1530 Z" fill="url(#hSlider)" stroke="#000" stroke-width="3"/>
<path d="M1469.0,1543.5 L1578.0,1543.5 L1578.0,1603.0 L1469.0,1603.0 L1455.0,1573.0 Z" fill="#000" stroke="#000" stroke-width="2" stroke-linejoin="miter" />
<rect x="1474.9" y="1561.5" width="7.6" height="26.6" fill="#fff"/>
<rect x="1487.2" y="1561.5" width="9.5" height="26.6" fill="#fff"/>
<rect x="1502.4" y="1561.5" width="9.5" height="26.6" fill="#fff"/>
<rect x="1513.8" y="1561.5" width="10.4" height="26.6" fill="#fff"/>
<path d="M1461,1570 L1468,1557 L1470,1570 Z M1461,1576 L1468,1589 L1470,1576 Z" fill="#fff"/>
<circle cx="1553.6" cy="1574.8" r="22.5" fill="#fff" stroke="#000" stroke-width="4"/>
<path d="M1552,1582 q6,-4 8,-10 M1557,1586 q8,-5 9,-12" fill="none" stroke="#000" stroke-width="1.3"/>
<path d="M1371.5,1493.0 L1400.0,1493.0 L1400.0,1597.0 L1371.5,1597.0 Z" fill="url(#h56)" stroke="#000" stroke-width="3" stroke-linejoin="miter" />
<path d="M1590.0,1493.0 L1607.0,1493.0 L1607.0,1597.0 L1581.7,1597.0 L1581.7,1500.0 L1590.0,1500.0 Z" fill="url(#h56)" stroke="#000" stroke-width="3" stroke-linejoin="miter" />
<line x1="1580.5" y1="1500.0" x2="1580.5" y2="1863.0" stroke="#000" stroke-width="2" />
<line x1="1399.5" y1="1597.0" x2="1399.5" y2="1863.0" stroke="#000" stroke-width="4" />
<rect x="1416.7" y="1651.7" width="145.0" height="10.0" fill="#fff" stroke="#000" stroke-width="2.5" />
<circle cx="1423" cy="1657" r="3" fill="#fff" stroke="#000" stroke-width="2"/><circle cx="1556" cy="1657" r="3" fill="#fff" stroke="#000" stroke-width="2"/>
<rect x="1418.0" y="1662.0" width="141.0" height="235.0" fill="#fff" stroke="#000" stroke-width="3" />
<rect x="1546.7" y="1662" width="11.3" height="235" fill="#000"/>
<line x1="1424.0" y1="1664.0" x2="1424.0" y2="1895.0" stroke="#000" stroke-width="1.6" stroke-dasharray="12 5"/>
<line x1="1488.0" y1="1664.0" x2="1488.0" y2="1895.0" stroke="#000" stroke-width="1.8" stroke-dasharray="12 4 2 4"/>
<line x1="1510.0" y1="1664.0" x2="1510.0" y2="1895.0" stroke="#000" stroke-width="1.8" />
<line x1="1528.0" y1="1664.0" x2="1528.0" y2="1895.0" stroke="#000" stroke-width="1.6" stroke-dasharray="10 4"/>
<line x1="1536.0" y1="1664.0" x2="1536.0" y2="1895.0" stroke="#000" stroke-width="1.6" />
<line x1="1541.0" y1="1664.0" x2="1541.0" y2="1895.0" stroke="#000" stroke-width="1.6" />
<circle cx="1409.0" cy="1812.0" r="6.5" fill="#000"/><line x1="1405.4" y1="1812.7" x2="1409.7" y2="1808.4" stroke="#fff" stroke-width="1.8"/><line x1="1408.3" y1="1815.6" x2="1412.6" y2="1811.3" stroke="#fff" stroke-width="1.8"/>
<circle cx="1571.0" cy="1814.0" r="6.5" fill="#000"/><line x1="1567.4" y1="1814.7" x2="1571.7" y2="1810.4" stroke="#fff" stroke-width="1.8"/><line x1="1570.3" y1="1817.6" x2="1574.6" y2="1813.3" stroke="#fff" stroke-width="1.8"/>
<circle cx="1409.0" cy="1827.0" r="6.5" fill="#000"/><line x1="1405.4" y1="1827.7" x2="1409.7" y2="1823.4" stroke="#fff" stroke-width="1.8"/><line x1="1408.3" y1="1830.6" x2="1412.6" y2="1826.3" stroke="#fff" stroke-width="1.8"/>
<circle cx="1571.0" cy="1829.0" r="6.5" fill="#000"/><line x1="1567.4" y1="1829.7" x2="1571.7" y2="1825.4" stroke="#fff" stroke-width="1.8"/><line x1="1570.3" y1="1832.6" x2="1574.6" y2="1828.3" stroke="#fff" stroke-width="1.8"/>
<circle cx="1409.0" cy="1842.0" r="6.5" fill="#000"/><line x1="1405.4" y1="1842.7" x2="1409.7" y2="1838.4" stroke="#fff" stroke-width="1.8"/><line x1="1408.3" y1="1845.6" x2="1412.6" y2="1841.3" stroke="#fff" stroke-width="1.8"/>
<circle cx="1571.0" cy="1844.0" r="6.5" fill="#000"/><line x1="1567.4" y1="1844.7" x2="1571.7" y2="1840.4" stroke="#fff" stroke-width="1.8"/><line x1="1570.3" y1="1847.6" x2="1574.6" y2="1843.3" stroke="#fff" stroke-width="1.8"/>
<circle cx="1409.0" cy="1857.0" r="6.5" fill="#000"/><line x1="1405.4" y1="1857.7" x2="1409.7" y2="1853.4" stroke="#fff" stroke-width="1.8"/><line x1="1408.3" y1="1860.6" x2="1412.6" y2="1856.3" stroke="#fff" stroke-width="1.8"/>
<circle cx="1571.0" cy="1859.0" r="6.5" fill="#000"/><line x1="1567.4" y1="1859.7" x2="1571.7" y2="1855.4" stroke="#fff" stroke-width="1.8"/><line x1="1570.3" y1="1862.6" x2="1574.6" y2="1858.3" stroke="#fff" stroke-width="1.8"/>
<line x1="1418.0" y1="1898.0" x2="1560.0" y2="1898.0" stroke="#000" stroke-width="5" />
<rect x="1421.7" y="1900.0" width="138.3" height="20.0" fill="#fff" stroke="#000" stroke-width="3" />
<rect x="1548" y="1900" width="12" height="20" fill="#000"/>
<rect x="1421.7" y="1920.0" width="138.3" height="46.0" fill="#fff" stroke="#000" stroke-width="3" />
<path d="M1441.7,1942 L1538,1942 Q1535,1958 1490,1962 Q1450,1958 1441.7,1942 Z" fill="#fff" stroke="#000" stroke-width="2.5"/>
<line x1="1426.0" y1="1922.0" x2="1426.0" y2="1964.0" stroke="#000" stroke-width="1.6" />
<line x1="1431.0" y1="1922.0" x2="1431.0" y2="1964.0" stroke="#000" stroke-width="1.6" />
<line x1="1436.0" y1="1922.0" x2="1436.0" y2="1964.0" stroke="#000" stroke-width="1.6" />
<line x1="1521.0" y1="1922.0" x2="1521.0" y2="1964.0" stroke="#000" stroke-width="1.6" />
<line x1="1527.0" y1="1922.0" x2="1527.0" y2="1964.0" stroke="#000" stroke-width="1.6" />
<line x1="1532.0" y1="1922.0" x2="1532.0" y2="1964.0" stroke="#000" stroke-width="1.6" />
<path d="M1395.0,1863.0 L1581.7,1863.0 L1581.7,2090.0 L1546.7,2090.0 L1546.7,2183.0 L1428.3,2183.0 L1428.3,2087.0 L1395.0,2087.0 Z M1416.7,1865.0 L1563.3,1865.0 L1563.3,2015.0 L1510.0,2015.0 L1510.0,2075.0 L1503.3,2075.0 L1503.3,2183.0 L1471.7,2183.0 L1471.7,2075.0 L1465.0,2075.0 L1465.0,2015.0 L1416.7,2015.0 Z" fill="url(#hIns)" fill-rule="evenodd" stroke="#000" stroke-width="3"/>
<rect x="1421.7" y="1900.0" width="138.3" height="20.0" fill="#fff" stroke="#000" stroke-width="3" />
<rect x="1548" y="1900" width="12" height="20" fill="#000"/>
<rect x="1418.0" y="1920.0" width="145.0" height="46.0" fill="#fff" stroke="#000" stroke-width="3" />
<path d="M1441.7,1942 L1538,1942 Q1535,1958 1490,1962 Q1450,1958 1441.7,1942 Z" fill="#fff" stroke="#000" stroke-width="2.5"/>
<line x1="1424.0" y1="1922.0" x2="1424.0" y2="1964.0" stroke="#000" stroke-width="1.6" />
<line x1="1429.0" y1="1922.0" x2="1429.0" y2="1964.0" stroke="#000" stroke-width="1.6" />
<line x1="1434.0" y1="1922.0" x2="1434.0" y2="1964.0" stroke="#000" stroke-width="1.6" />
<line x1="1521.0" y1="1922.0" x2="1521.0" y2="1964.0" stroke="#000" stroke-width="1.6" />
<line x1="1527.0" y1="1922.0" x2="1527.0" y2="1964.0" stroke="#000" stroke-width="1.6" />
<line x1="1532.0" y1="1922.0" x2="1532.0" y2="1964.0" stroke="#000" stroke-width="1.6" />
<line x1="1418.0" y1="1898.0" x2="1562.0" y2="1898.0" stroke="#000" stroke-width="5" />
<rect x="1418.3" y="1968.3" width="143.4" height="46.7" fill="#fff" stroke="#000" stroke-width="3" />
<line x1="1486.0" y1="1971.0" x2="1486.0" y2="2012.0" stroke="#000" stroke-width="1.6" />
<line x1="1500.0" y1="1971.0" x2="1500.0" y2="2012.0" stroke="#000" stroke-width="1.6" />
<line x1="1527.0" y1="1971.0" x2="1527.0" y2="2012.0" stroke="#000" stroke-width="1.6" />
<line x1="1533.0" y1="1971.0" x2="1533.0" y2="2012.0" stroke="#000" stroke-width="1.6" />
<line x1="1538.0" y1="1971.0" x2="1538.0" y2="2012.0" stroke="#000" stroke-width="1.6" />
<line x1="1543.0" y1="1971.0" x2="1543.0" y2="2012.0" stroke="#000" stroke-width="1.6" />
<line x1="1548.0" y1="1971.0" x2="1548.0" y2="2012.0" stroke="#000" stroke-width="1.6" />
<line x1="1553.0" y1="1971.0" x2="1553.0" y2="2012.0" stroke="#000" stroke-width="1.6" />
<rect x="1465.0" y="2015.0" width="45.0" height="60.0" fill="#fff" stroke="#000" stroke-width="3" />
<line x1="1478.0" y1="2017.0" x2="1478.0" y2="2073.0" stroke="#000" stroke-width="1.5" />
<line x1="1488.0" y1="2017.0" x2="1488.0" y2="2073.0" stroke="#000" stroke-width="1.5" />
<line x1="1493.0" y1="2017.0" x2="1493.0" y2="2073.0" stroke="#000" stroke-width="1.5" />
<line x1="1341.0" y1="2178.0" x2="1635.0" y2="2183.0" stroke="#000" stroke-width="5" />
<path d="M1474,2075 L1474,2188 Q1474,2202 1460,2202 L1335,2202 Q1328,2202 1328,2216 Q1328,2230 1335,2230 L1462,2230 Q1500,2230 1500,2192 L1500,2075" fill="#fff" stroke="#000" stroke-width="3.5"/>
<line x1="1490.0" y1="2077.0" x2="1490.0" y2="2195.0" stroke="#000" stroke-width="1.6" />
<line x1="1340.0" y1="2209.0" x2="1450.0" y2="2209.0" stroke="#000" stroke-width="1.5" />
<path transform="translate(970.0,1001.2) scale(0.888,0.913)" d="M4,8 C6,3 11,1 17,1 C23,1 26,4 25,9 C24,15 13,22 2,30 L25,30" fill="none" stroke="#000" stroke-width="4.00" stroke-linecap="round" stroke-linejoin="round"/>
<path transform="translate(996.6,1001.2) scale(0.888,0.913)" d="M7.6,4.9 C12,1 24,0 26,3 C27,6 20,10 8.3,11.8 C18,11.5 26,14 25,19 C24,25 15,29 9,29 C5,29 2,27 0.8,24" fill="none" stroke="#000" stroke-width="4.00" stroke-linecap="round" stroke-linejoin="round"/>
<path d="M945.0,998.3 C954.1,998.7 961.9,1007.6 971.0,1008.0" fill="none" stroke="#000" stroke-width="2.4" stroke-linecap="round"/>
<path transform="translate(968.3,1099.5) scale(0.963,0.968)" d="M28.5,1 L1,19.7 L27,20.5 M28.5,1 L13,31" fill="none" stroke="#000" stroke-width="3.73" stroke-linecap="round" stroke-linejoin="round"/>
<path transform="translate(997.2,1099.5) scale(0.963,0.968)" d="M7.6,4.9 C12,1 24,0 26,3 C27,6 20,10 8.3,11.8 C18,11.5 26,14 25,19 C24,25 15,29 9,29 C5,29 2,27 0.8,24" fill="none" stroke="#000" stroke-width="3.73" stroke-linecap="round" stroke-linejoin="round"/>
<path transform="translate(1026.1,1099.5) scale(0.963,0.968)" d="M18.6,17 C12,14 5,17 1,23.5 C-1,28 2,31 6,30.5 C11,30 16,25 18.6,19.5 M28.5,0.8 L19.5,26 C19,29 22,29.5 29.2,29.2" fill="none" stroke="#000" stroke-width="3.73" stroke-linecap="round" stroke-linejoin="round"/>
<path d="M891.7,1103.3 C914.6,1103.8 934.1,1112.8 957.0,1113.3" fill="none" stroke="#000" stroke-width="2.4" stroke-linecap="round"/>
<path transform="translate(585.0,1139.4) scale(0.926,1.184)" d="M28,1 L12,1 L8,13 C11,12 14,11 17,11 C23,11 25,15 24,20 C23,27 16,31 10,31 C6,31 3,29 1,27" fill="none" stroke="#000" stroke-width="3.41" stroke-linecap="round" stroke-linejoin="round"/>
<path transform="translate(612.8,1139.4) scale(0.926,1.184)" d="M18,1 C9,1 3,12 2,21 C1,28 5,31 10,31 C19,31 25,20 26,10 C27,4 23,1 18,1 Z" fill="none" stroke="#000" stroke-width="3.41" stroke-linecap="round" stroke-linejoin="round"/>
<path transform="translate(640.5,1139.4) scale(0.926,1.184)" d="M18.6,17 C12,14 5,17 1,23.5 C-1,28 2,31 6,30.5 C11,30 16,25 18.6,19.5 M28.5,0.8 L19.5,26 C19,29 22,29.5 29.2,29.2" fill="none" stroke="#000" stroke-width="3.41" stroke-linecap="round" stroke-linejoin="round"/>
<path d="M670.0,1160.0 C698.0,1155.8 722.0,1160.9 750.0,1156.7" fill="none" stroke="#000" stroke-width="2.4" stroke-linecap="round"/>
<path transform="translate(970.0,1171.2) scale(0.963,0.968)" d="M7.6,4.9 C12,1 24,0 26,3 C27,6 20,10 8.3,11.8 C18,11.5 26,14 25,19 C24,25 15,29 9,29 C5,29 2,27 0.8,24" fill="none" stroke="#000" stroke-width="3.73" stroke-linecap="round" stroke-linejoin="round"/>
<path transform="translate(998.9,1171.2) scale(0.963,0.968)" d="M7.6,4.9 C12,1 24,0 26,3 C27,6 20,10 8.3,11.8 C18,11.5 26,14 25,19 C24,25 15,29 9,29 C5,29 2,27 0.8,24" fill="none" stroke="#000" stroke-width="3.73" stroke-linecap="round" stroke-linejoin="round"/>
<path transform="translate(1027.8,1171.2) scale(0.963,0.968)" d="M18.6,17 C12,14 5,17 1,23.5 C-1,28 2,31 6,30.5 C11,30 16,25 18.6,19.5 M28.5,0.8 L19.5,26 C19,29 22,29.5 29.2,29.2" fill="none" stroke="#000" stroke-width="3.73" stroke-linecap="round" stroke-linejoin="round"/>
<path d="M888.3,1163.3 C915.5,1165.5 938.8,1176.0 966.0,1178.3" fill="none" stroke="#000" stroke-width="2.4" stroke-linecap="round"/>
<path transform="translate(973.3,1282.8) scale(0.963,0.968)" d="M4,8 C6,3 11,1 17,1 C23,1 26,4 25,9 C24,15 13,22 2,30 L25,30" fill="none" stroke="#000" stroke-width="3.73" stroke-linecap="round" stroke-linejoin="round"/>
<path transform="translate(1002.2,1282.8) scale(0.963,0.968)" d="M28.5,1 L1,19.7 L27,20.5 M28.5,1 L13,31" fill="none" stroke="#000" stroke-width="3.73" stroke-linecap="round" stroke-linejoin="round"/>
<path transform="translate(1031.1,1282.8) scale(0.963,0.968)" d="M18.6,17 C12,14 5,17 1,23.5 C-1,28 2,31 6,30.5 C11,30 16,25 18.6,19.5 M28.5,0.8 L19.5,26 C19,29 22,29.5 29.2,29.2" fill="none" stroke="#000" stroke-width="3.73" stroke-linecap="round" stroke-linejoin="round"/>
<path d="M908.3,1288.3 C929.9,1289.4 948.4,1298.9 970.0,1300.0" fill="none" stroke="#000" stroke-width="2.4" stroke-linecap="round"/>
<path transform="translate(976.7,1381.2) scale(0.981,1.019)" d="M4,8 C6,3 11,1 17,1 C23,1 26,4 25,9 C24,15 13,22 2,30 L25,30" fill="none" stroke="#000" stroke-width="3.60" stroke-linecap="round" stroke-linejoin="round"/>
<path transform="translate(1006.1,1381.2) scale(0.981,1.019)" d="M28,1 L12,1 L8,13 C11,12 14,11 17,11 C23,11 25,15 24,20 C23,27 16,31 10,31 C6,31 3,29 1,27" fill="none" stroke="#000" stroke-width="3.60" stroke-linecap="round" stroke-linejoin="round"/>
<path transform="translate(1035.6,1381.2) scale(0.981,1.019)" d="M18.6,17 C12,14 5,17 1,23.5 C-1,28 2,31 6,30.5 C11,30 16,25 18.6,19.5 M28.5,0.8 L19.5,26 C19,29 22,29.5 29.2,29.2" fill="none" stroke="#000" stroke-width="3.60" stroke-linecap="round" stroke-linejoin="round"/>
<path d="M908.3,1376.7 C931.6,1377.2 951.7,1386.2 975.0,1386.7" fill="none" stroke="#000" stroke-width="2.4" stroke-linecap="round"/>
<path transform="translate(573.3,1411.2) scale(1.000,1.019)" d="M28.5,1 L1,19.7 L27,20.5 M28.5,1 L13,31" fill="none" stroke="#000" stroke-width="3.57" stroke-linecap="round" stroke-linejoin="round"/>
<path transform="translate(603.3,1411.2) scale(1.000,1.019)" d="M7,3 C9,1 12,1 14,1 L29,1 C22,10 15,20 11,31" fill="none" stroke="#000" stroke-width="3.57" stroke-linecap="round" stroke-linejoin="round"/>
<path d="M641.7,1438.3 C702.0,1432.0 753.7,1435.3 814.0,1429.0" fill="none" stroke="#000" stroke-width="2.4" stroke-linecap="round"/>
<path transform="translate(563.3,1456.2) scale(0.917,1.074)" d="M28.5,1 L1,19.7 L27,20.5 M28.5,1 L13,31" fill="none" stroke="#000" stroke-width="3.62" stroke-linecap="round" stroke-linejoin="round"/>
<path transform="translate(590.8,1456.2) scale(0.917,1.074)" d="M16,15 C10,15 6,12 7,7 C8,3 12,1 17,1 C23,1 26,4 25,8 C24,12 20,15 16,15 C9,15 3,19 3,24 C3,29 7,31 12,31 C19,31 23,27 23,22 C23,18 20,15 16,15 Z" fill="none" stroke="#000" stroke-width="3.62" stroke-linecap="round" stroke-linejoin="round"/>
<path d="M630.0,1479.3 C680.8,1470.1 724.2,1470.9 775.0,1461.7" fill="none" stroke="#000" stroke-width="2.4" stroke-linecap="round"/>
<path transform="translate(973.3,1456.1) scale(0.973,1.129)" d="M28.5,1 L1,19.7 L27,20.5 M28.5,1 L13,31" fill="none" stroke="#000" stroke-width="3.42" stroke-linecap="round" stroke-linejoin="round"/>
<path transform="translate(1002.5,1456.1) scale(0.973,1.129)" d="M25,10 C25,5 22,1 17,1 C10,1 6,6 6,11 C6,15 9,18 14,18 C20,18 24,14 25,10 C25,18 20,31 9,31 C6,31 4,30 3,29" fill="none" stroke="#000" stroke-width="3.42" stroke-linecap="round" stroke-linejoin="round"/>
<path d="M895.0,1466.7 C922.3,1464.9 945.7,1471.8 973.0,1470.0" fill="none" stroke="#000" stroke-width="2.4" stroke-linecap="round"/>
<path transform="translate(971.7,1542.8) scale(1.018,1.077)" d="M28,1 L12,1 L8,13 C11,12 14,11 17,11 C23,11 25,15 24,20 C23,27 16,31 10,31 C6,31 3,29 1,27" fill="none" stroke="#000" stroke-width="3.44" stroke-linecap="round" stroke-linejoin="round"/>
<path transform="translate(1002.2,1542.8) scale(1.018,1.077)" d="M25,3 C23,1 20,1 18,1 C10,1 4,12 3,21 C2,28 6,31 11,31 C18,31 23,26 23,20 C23,15 19,13 15,13 C9,13 5,17 4,21" fill="none" stroke="#000" stroke-width="3.44" stroke-linecap="round" stroke-linejoin="round"/>
<path transform="translate(1032.8,1542.8) scale(1.018,1.077)" d="M18.6,17 C12,14 5,17 1,23.5 C-1,28 2,31 6,30.5 C11,30 16,25 18.6,19.5 M28.5,0.8 L19.5,26 C19,29 22,29.5 29.2,29.2" fill="none" stroke="#000" stroke-width="3.44" stroke-linecap="round" stroke-linejoin="round"/>
<path d="M920.0,1551.7 C937.5,1550.5 952.5,1558.0 970.0,1556.7" fill="none" stroke="#000" stroke-width="2.4" stroke-linecap="round"/>
<path transform="translate(558.3,1659.4) scale(0.871,1.129)" d="M7.6,4.9 C12,1 24,0 26,3 C27,6 20,10 8.3,11.8 C18,11.5 26,14 25,19 C24,25 15,29 9,29 C5,29 2,27 0.8,24" fill="none" stroke="#000" stroke-width="3.60" stroke-linecap="round" stroke-linejoin="round"/>
<path transform="translate(584.4,1659.4) scale(0.871,1.129)" d="M18,1 C9,1 3,12 2,21 C1,28 5,31 10,31 C19,31 25,20 26,10 C27,4 23,1 18,1 Z" fill="none" stroke="#000" stroke-width="3.60" stroke-linecap="round" stroke-linejoin="round"/>
<path transform="translate(610.6,1659.4) scale(0.871,1.129)" d="M18.6,17 C12,14 5,17 1,23.5 C-1,28 2,31 6,30.5 C11,30 16,25 18.6,19.5 M28.5,0.8 L19.5,26 C19,29 22,29.5 29.2,29.2" fill="none" stroke="#000" stroke-width="3.60" stroke-linecap="round" stroke-linejoin="round"/>
<path d="M625.0,1701.7 C669.3,1693.5 707.4,1695.0 751.7,1686.7" fill="none" stroke="#000" stroke-width="2.4" stroke-linecap="round"/>
<path transform="translate(981.7,1659.4) scale(0.926,1.184)" d="M28.5,1 L1,19.7 L27,20.5 M28.5,1 L13,31" fill="none" stroke="#000" stroke-width="3.41" stroke-linecap="round" stroke-linejoin="round"/>
<path transform="translate(1009.5,1659.4) scale(0.926,1.184)" d="M28.5,1 L1,19.7 L27,20.5 M28.5,1 L13,31" fill="none" stroke="#000" stroke-width="3.41" stroke-linecap="round" stroke-linejoin="round"/>
<path transform="translate(1037.2,1659.4) scale(0.926,1.184)" d="M18.6,17 C12,14 5,17 1,23.5 C-1,28 2,31 6,30.5 C11,30 16,25 18.6,19.5 M28.5,0.8 L19.5,26 C19,29 22,29.5 29.2,29.2" fill="none" stroke="#000" stroke-width="3.41" stroke-linecap="round" stroke-linejoin="round"/>
<path d="M933.3,1685.0 C947.3,1681.4 959.3,1686.9 973.3,1683.3" fill="none" stroke="#000" stroke-width="2.4" stroke-linecap="round"/>
<path transform="translate(960.0,1769.4) scale(1.000,1.184)" d="M7.6,4.9 C12,1 24,0 26,3 C27,6 20,10 8.3,11.8 C18,11.5 26,14 25,19 C24,25 15,29 9,29 C5,29 2,27 0.8,24" fill="none" stroke="#000" stroke-width="3.30" stroke-linecap="round" stroke-linejoin="round"/>
<path transform="translate(990.0,1769.4) scale(1.000,1.184)" d="M28.5,1 L1,19.7 L27,20.5 M28.5,1 L13,31" fill="none" stroke="#000" stroke-width="3.30" stroke-linecap="round" stroke-linejoin="round"/>
<path transform="translate(1020.0,1769.4) scale(1.000,1.184)" d="M18.6,17 C12,14 5,17 1,23.5 C-1,28 2,31 6,30.5 C11,30 16,25 18.6,19.5 M28.5,0.8 L19.5,26 C19,29 22,29.5 29.2,29.2" fill="none" stroke="#000" stroke-width="3.30" stroke-linecap="round" stroke-linejoin="round"/>
<path d="M883.3,1780.0 C909.4,1779.3 931.9,1787.4 958.0,1786.7" fill="none" stroke="#000" stroke-width="2.4" stroke-linecap="round"/>
<path transform="translate(965.0,1842.8) scale(0.889,1.077)" d="M7.6,4.9 C12,1 24,0 26,3 C27,6 20,10 8.3,11.8 C18,11.5 26,14 25,19 C24,25 15,29 9,29 C5,29 2,27 0.8,24" fill="none" stroke="#000" stroke-width="3.66" stroke-linecap="round" stroke-linejoin="round"/>
<path transform="translate(991.7,1842.8) scale(0.889,1.077)" d="M21,1 L11,31" fill="none" stroke="#000" stroke-width="3.66" stroke-linecap="round" stroke-linejoin="round"/>
<path transform="translate(1018.3,1842.8) scale(0.889,1.077)" d="M18.6,17 C12,14 5,17 1,23.5 C-1,28 2,31 6,30.5 C11,30 16,25 18.6,19.5 M28.5,0.8 L19.5,26 C19,29 22,29.5 29.2,29.2" fill="none" stroke="#000" stroke-width="3.66" stroke-linecap="round" stroke-linejoin="round"/>
<path d="M818.3,1840.0 C868.5,1842.2 911.5,1852.8 961.7,1855.0" fill="none" stroke="#000" stroke-width="2.4" stroke-linecap="round"/>
<path transform="translate(963.3,1981.2) scale(0.945,1.074)" d="M28,1 L12,1 L8,13 C11,12 14,11 17,11 C23,11 25,15 24,20 C23,27 16,31 10,31 C6,31 3,29 1,27" fill="none" stroke="#000" stroke-width="3.57" stroke-linecap="round" stroke-linejoin="round"/>
<path transform="translate(991.6,1981.2) scale(0.945,1.074)" d="M7.6,4.9 C12,1 24,0 26,3 C27,6 20,10 8.3,11.8 C18,11.5 26,14 25,19 C24,25 15,29 9,29 C5,29 2,27 0.8,24" fill="none" stroke="#000" stroke-width="3.57" stroke-linecap="round" stroke-linejoin="round"/>
<path d="M846.7,1986.7 C887.0,1986.0 921.5,1994.0 961.7,1993.3" fill="none" stroke="#000" stroke-width="2.4" stroke-linecap="round"/>
<path transform="translate(965.0,2056.1) scale(1.055,1.181)" d="M28,1 L12,1 L8,13 C11,12 14,11 17,11 C23,11 25,15 24,20 C23,27 16,31 10,31 C6,31 3,29 1,27" fill="none" stroke="#000" stroke-width="3.22" stroke-linecap="round" stroke-linejoin="round"/>
<path transform="translate(996.6,2056.1) scale(1.055,1.181)" d="M28.5,1 L1,19.7 L27,20.5 M28.5,1 L13,31" fill="none" stroke="#000" stroke-width="3.22" stroke-linecap="round" stroke-linejoin="round"/>
<path d="M866.7,2058.3 C900.5,2060.0 929.5,2070.0 963.3,2071.7" fill="none" stroke="#000" stroke-width="2.4" stroke-linecap="round"/>
<path transform="translate(843.3,2204.5) scale(1.083,1.074)" d="M28,1 L12,1 L8,13 C11,12 14,11 17,11 C23,11 25,15 24,20 C23,27 16,31 10,31 C6,31 3,29 1,27" fill="none" stroke="#000" stroke-width="3.34" stroke-linecap="round" stroke-linejoin="round"/>
<path transform="translate(875.8,2204.5) scale(1.083,1.074)" d="M28,1 L12,1 L8,13 C11,12 14,11 17,11 C23,11 25,15 24,20 C23,27 16,31 10,31 C6,31 3,29 1,27" fill="none" stroke="#000" stroke-width="3.34" stroke-linecap="round" stroke-linejoin="round"/>
<path d="M798.3,2200.0 C812.3,2202.8 824.3,2213.9 838.3,2216.7" fill="none" stroke="#000" stroke-width="2.4" stroke-linecap="round"/>
<path transform="translate(1646.7,1096.2) scale(0.917,1.074)" d="M4,8 C6,3 11,1 17,1 C23,1 26,4 25,9 C24,15 13,22 2,30 L25,30" fill="none" stroke="#000" stroke-width="3.62" stroke-linecap="round" stroke-linejoin="round"/>
<path transform="translate(1674.2,1096.2) scale(0.917,1.074)" d="M7.6,4.9 C12,1 24,0 26,3 C27,6 20,10 8.3,11.8 C18,11.5 26,14 25,19 C24,25 15,29 9,29 C5,29 2,27 0.8,24" fill="none" stroke="#000" stroke-width="3.62" stroke-linecap="round" stroke-linejoin="round"/>
<path d="M1615.0,1108.3 C1627.2,1105.9 1637.8,1112.4 1650.0,1110.0" fill="none" stroke="#000" stroke-width="2.4" stroke-linecap="round"/>
<path transform="translate(1663.3,1186.2) scale(1.056,1.074)" d="M28.5,1 L1,19.7 L27,20.5 M28.5,1 L13,31" fill="none" stroke="#000" stroke-width="3.38" stroke-linecap="round" stroke-linejoin="round"/>
<path transform="translate(1695.0,1186.2) scale(1.056,1.074)" d="M7.6,4.9 C12,1 24,0 26,3 C27,6 20,10 8.3,11.8 C18,11.5 26,14 25,19 C24,25 15,29 9,29 C5,29 2,27 0.8,24" fill="none" stroke="#000" stroke-width="3.38" stroke-linecap="round" stroke-linejoin="round"/>
<path transform="translate(1726.6,1186.2) scale(1.056,1.074)" d="M18.6,17 C12,14 5,17 1,23.5 C-1,28 2,31 6,30.5 C11,30 16,25 18.6,19.5 M28.5,0.8 L19.5,26 C19,29 22,29.5 29.2,29.2" fill="none" stroke="#000" stroke-width="3.38" stroke-linecap="round" stroke-linejoin="round"/>
<path d="M1578.3,1195.0 C1608.0,1193.8 1633.5,1201.2 1663.3,1200.0" fill="none" stroke="#000" stroke-width="2.4" stroke-linecap="round"/>
<path transform="translate(1255.0,1267.8) scale(0.926,1.077)" d="M28,1 L12,1 L8,13 C11,12 14,11 17,11 C23,11 25,15 24,20 C23,27 16,31 10,31 C6,31 3,29 1,27" fill="none" stroke="#000" stroke-width="3.59" stroke-linecap="round" stroke-linejoin="round"/>
<path transform="translate(1282.8,1267.8) scale(0.926,1.077)" d="M18,1 C9,1 3,12 2,21 C1,28 5,31 10,31 C19,31 25,20 26,10 C27,4 23,1 18,1 Z" fill="none" stroke="#000" stroke-width="3.59" stroke-linecap="round" stroke-linejoin="round"/>
<path transform="translate(1310.5,1267.8) scale(0.926,1.077)" d="M18.6,17 C12,14 5,17 1,23.5 C-1,28 2,31 6,30.5 C11,30 16,25 18.6,19.5 M28.5,0.8 L19.5,26 C19,29 22,29.5 29.2,29.2" fill="none" stroke="#000" stroke-width="3.59" stroke-linecap="round" stroke-linejoin="round"/>
<path d="M1308.3,1308.3 C1356.1,1296.5 1397.2,1295.0 1445.0,1283.3" fill="none" stroke="#000" stroke-width="2.4" stroke-linecap="round"/>
<path transform="translate(1658.3,1262.8) scale(0.982,1.077)" d="M7.6,4.9 C12,1 24,0 26,3 C27,6 20,10 8.3,11.8 C18,11.5 26,14 25,19 C24,25 15,29 9,29 C5,29 2,27 0.8,24" fill="none" stroke="#000" stroke-width="3.50" stroke-linecap="round" stroke-linejoin="round"/>
<path transform="translate(1687.8,1262.8) scale(0.982,1.077)" d="M7.6,4.9 C12,1 24,0 26,3 C27,6 20,10 8.3,11.8 C18,11.5 26,14 25,19 C24,25 15,29 9,29 C5,29 2,27 0.8,24" fill="none" stroke="#000" stroke-width="3.50" stroke-linecap="round" stroke-linejoin="round"/>
<path transform="translate(1717.2,1262.8) scale(0.982,1.077)" d="M18.6,17 C12,14 5,17 1,23.5 C-1,28 2,31 6,30.5 C11,30 16,25 18.6,19.5 M28.5,0.8 L19.5,26 C19,29 22,29.5 29.2,29.2" fill="none" stroke="#000" stroke-width="3.50" stroke-linecap="round" stroke-linejoin="round"/>
<path d="M1575.0,1265.0 C1603.3,1266.1 1627.7,1275.6 1656.0,1276.7" fill="none" stroke="#000" stroke-width="2.4" stroke-linecap="round"/>
<path transform="translate(1666.7,1399.5) scale(0.907,1.074)" d="M4,8 C6,3 11,1 17,1 C23,1 26,4 25,9 C24,15 13,22 2,30 L25,30" fill="none" stroke="#000" stroke-width="3.63" stroke-linecap="round" stroke-linejoin="round"/>
<path transform="translate(1693.9,1399.5) scale(0.907,1.074)" d="M28.5,1 L1,19.7 L27,20.5 M28.5,1 L13,31" fill="none" stroke="#000" stroke-width="3.63" stroke-linecap="round" stroke-linejoin="round"/>
<path transform="translate(1721.1,1399.5) scale(0.907,1.074)" d="M18.6,17 C12,14 5,17 1,23.5 C-1,28 2,31 6,30.5 C11,30 16,25 18.6,19.5 M28.5,0.8 L19.5,26 C19,29 22,29.5 29.2,29.2" fill="none" stroke="#000" stroke-width="3.63" stroke-linecap="round" stroke-linejoin="round"/>
<path d="M1598.3,1405.0 C1621.6,1404.3 1641.7,1412.4 1665.0,1411.7" fill="none" stroke="#000" stroke-width="2.4" stroke-linecap="round"/>
<path transform="translate(1660.0,1509.5) scale(1.056,1.074)" d="M28,1 L12,1 L8,13 C11,12 14,11 17,11 C23,11 25,15 24,20 C23,27 16,31 10,31 C6,31 3,29 1,27" fill="none" stroke="#000" stroke-width="3.38" stroke-linecap="round" stroke-linejoin="round"/>
<path transform="translate(1691.7,1509.5) scale(1.056,1.074)" d="M25,3 C23,1 20,1 18,1 C10,1 4,12 3,21 C2,28 6,31 11,31 C18,31 23,26 23,20 C23,15 19,13 15,13 C9,13 5,17 4,21" fill="none" stroke="#000" stroke-width="3.38" stroke-linecap="round" stroke-linejoin="round"/>
<path transform="translate(1723.3,1509.5) scale(1.056,1.074)" d="M18.6,17 C12,14 5,17 1,23.5 C-1,28 2,31 6,30.5 C11,30 16,25 18.6,19.5 M28.5,0.8 L19.5,26 C19,29 22,29.5 29.2,29.2" fill="none" stroke="#000" stroke-width="3.38" stroke-linecap="round" stroke-linejoin="round"/>
<path d="M1606.7,1528.3 C1624.7,1525.9 1640.0,1532.4 1658.0,1530.0" fill="none" stroke="#000" stroke-width="2.4" stroke-linecap="round"/>
<path transform="translate(1266.7,1511.2) scale(1.000,1.019)" d="M28.5,1 L1,19.7 L27,20.5 M28.5,1 L13,31" fill="none" stroke="#000" stroke-width="3.57" stroke-linecap="round" stroke-linejoin="round"/>
<path transform="translate(1296.7,1511.2) scale(1.000,1.019)" d="M7,3 C9,1 12,1 14,1 L29,1 C22,10 15,20 11,31" fill="none" stroke="#000" stroke-width="3.57" stroke-linecap="round" stroke-linejoin="round"/>
<path d="M1323.3,1535.0 C1384.5,1531.4 1437.0,1536.9 1498.3,1533.3" fill="none" stroke="#000" stroke-width="2.4" stroke-linecap="round"/>
<path transform="translate(1270.0,1566.1) scale(0.917,1.129)" d="M28.5,1 L1,19.7 L27,20.5 M28.5,1 L13,31" fill="none" stroke="#000" stroke-width="3.52" stroke-linecap="round" stroke-linejoin="round"/>
<path transform="translate(1297.5,1566.1) scale(0.917,1.129)" d="M16,15 C10,15 6,12 7,7 C8,3 12,1 17,1 C23,1 26,4 25,8 C24,12 20,15 16,15 C9,15 3,19 3,24 C3,29 7,31 12,31 C19,31 23,27 23,22 C23,18 20,15 16,15 Z" fill="none" stroke="#000" stroke-width="3.52" stroke-linecap="round" stroke-linejoin="round"/>
<path d="M1330.0,1586.7 C1376.1,1579.0 1415.6,1581.0 1461.7,1573.3" fill="none" stroke="#000" stroke-width="2.4" stroke-linecap="round"/>
<path transform="translate(1653.3,1569.4) scale(0.973,1.129)" d="M28.5,1 L1,19.7 L27,20.5 M28.5,1 L13,31" fill="none" stroke="#000" stroke-width="3.42" stroke-linecap="round" stroke-linejoin="round"/>
<path transform="translate(1682.5,1569.4) scale(0.973,1.129)" d="M25,10 C25,5 22,1 17,1 C10,1 6,6 6,11 C6,15 9,18 14,18 C20,18 24,14 25,10 C25,18 20,31 9,31 C6,31 4,30 3,29" fill="none" stroke="#000" stroke-width="3.42" stroke-linecap="round" stroke-linejoin="round"/>
<path d="M1565.0,1568.3 C1596.5,1568.2 1623.5,1576.8 1655.0,1576.7" fill="none" stroke="#000" stroke-width="2.4" stroke-linecap="round"/>
<path transform="translate(1245.0,1667.8) scale(0.944,1.077)" d="M7.6,4.9 C12,1 24,0 26,3 C27,6 20,10 8.3,11.8 C18,11.5 26,14 25,19 C24,25 15,29 9,29 C5,29 2,27 0.8,24" fill="none" stroke="#000" stroke-width="3.56" stroke-linecap="round" stroke-linejoin="round"/>
<path transform="translate(1273.3,1667.8) scale(0.944,1.077)" d="M18,1 C9,1 3,12 2,21 C1,28 5,31 10,31 C19,31 25,20 26,10 C27,4 23,1 18,1 Z" fill="none" stroke="#000" stroke-width="3.56" stroke-linecap="round" stroke-linejoin="round"/>
<path transform="translate(1301.7,1667.8) scale(0.944,1.077)" d="M18.6,17 C12,14 5,17 1,23.5 C-1,28 2,31 6,30.5 C11,30 16,25 18.6,19.5 M28.5,0.8 L19.5,26 C19,29 22,29.5 29.2,29.2" fill="none" stroke="#000" stroke-width="3.56" stroke-linecap="round" stroke-linejoin="round"/>
<path d="M1311.7,1708.3 C1356.6,1707.6 1395.1,1715.7 1440.0,1715.0" fill="none" stroke="#000" stroke-width="2.4" stroke-linecap="round"/>
<path transform="translate(1681.7,1724.4) scale(1.000,1.129)" d="M28.5,1 L1,19.7 L27,20.5 M28.5,1 L13,31" fill="none" stroke="#000" stroke-width="3.38" stroke-linecap="round" stroke-linejoin="round"/>
<path transform="translate(1711.7,1724.4) scale(1.000,1.129)" d="M28.5,1 L1,19.7 L27,20.5 M28.5,1 L13,31" fill="none" stroke="#000" stroke-width="3.38" stroke-linecap="round" stroke-linejoin="round"/>
<path transform="translate(1741.7,1724.4) scale(1.000,1.129)" d="M18.6,17 C12,14 5,17 1,23.5 C-1,28 2,31 6,30.5 C11,30 16,25 18.6,19.5 M28.5,0.8 L19.5,26 C19,29 22,29.5 29.2,29.2" fill="none" stroke="#000" stroke-width="3.38" stroke-linecap="round" stroke-linejoin="round"/>
<path d="M1618.3,1740.0 C1636.4,1734.4 1651.9,1738.3 1670.0,1732.7" fill="none" stroke="#000" stroke-width="2.4" stroke-linecap="round"/>
<path transform="translate(1650.0,1821.1) scale(1.074,1.181)" d="M7.6,4.9 C12,1 24,0 26,3 C27,6 20,10 8.3,11.8 C18,11.5 26,14 25,19 C24,25 15,29 9,29 C5,29 2,27 0.8,24" fill="none" stroke="#000" stroke-width="3.19" stroke-linecap="round" stroke-linejoin="round"/>
<path transform="translate(1682.2,1821.1) scale(1.074,1.181)" d="M28.5,1 L1,19.7 L27,20.5 M28.5,1 L13,31" fill="none" stroke="#000" stroke-width="3.19" stroke-linecap="round" stroke-linejoin="round"/>
<path transform="translate(1714.5,1821.1) scale(1.074,1.181)" d="M18.6,17 C12,14 5,17 1,23.5 C-1,28 2,31 6,30.5 C11,30 16,25 18.6,19.5 M28.5,0.8 L19.5,26 C19,29 22,29.5 29.2,29.2" fill="none" stroke="#000" stroke-width="3.19" stroke-linecap="round" stroke-linejoin="round"/>
<path d="M1573.3,1821.7 C1600.1,1822.8 1623.2,1832.2 1650.0,1833.3" fill="none" stroke="#000" stroke-width="2.4" stroke-linecap="round"/>
<path transform="translate(1650.0,1939.4) scale(0.889,1.184)" d="M7.6,4.9 C12,1 24,0 26,3 C27,6 20,10 8.3,11.8 C18,11.5 26,14 25,19 C24,25 15,29 9,29 C5,29 2,27 0.8,24" fill="none" stroke="#000" stroke-width="3.47" stroke-linecap="round" stroke-linejoin="round"/>
<path transform="translate(1676.7,1939.4) scale(0.889,1.184)" d="M21,1 L11,31" fill="none" stroke="#000" stroke-width="3.47" stroke-linecap="round" stroke-linejoin="round"/>
<path transform="translate(1703.3,1939.4) scale(0.889,1.184)" d="M18.6,17 C12,14 5,17 1,23.5 C-1,28 2,31 6,30.5 C11,30 16,25 18.6,19.5 M28.5,0.8 L19.5,26 C19,29 22,29.5 29.2,29.2" fill="none" stroke="#000" stroke-width="3.47" stroke-linecap="round" stroke-linejoin="round"/>
<path d="M1538.3,1935.0 C1577.4,1940.2 1610.9,1953.1 1650.0,1958.3" fill="none" stroke="#000" stroke-width="2.4" stroke-linecap="round"/>
<path transform="translate(1650.0,2007.8) scale(0.917,0.968)" d="M28,1 L12,1 L8,13 C11,12 14,11 17,11 C23,11 25,15 24,20 C23,27 16,31 10,31 C6,31 3,29 1,27" fill="none" stroke="#000" stroke-width="3.82" stroke-linecap="round" stroke-linejoin="round"/>
<path transform="translate(1677.5,2007.8) scale(0.917,0.968)" d="M7.6,4.9 C12,1 24,0 26,3 C27,6 20,10 8.3,11.8 C18,11.5 26,14 25,19 C24,25 15,29 9,29 C5,29 2,27 0.8,24" fill="none" stroke="#000" stroke-width="3.82" stroke-linecap="round" stroke-linejoin="round"/>
<path d="M1581.7,1998.3 C1605.6,2001.7 1626.1,2013.3 1650.0,2016.7" fill="none" stroke="#000" stroke-width="2.4" stroke-linecap="round"/>
<path transform="translate(1655.0,2069.4) scale(1.000,1.184)" d="M28,1 L12,1 L8,13 C11,12 14,11 17,11 C23,11 25,15 24,20 C23,27 16,31 10,31 C6,31 3,29 1,27" fill="none" stroke="#000" stroke-width="3.30" stroke-linecap="round" stroke-linejoin="round"/>
<path transform="translate(1685.0,2069.4) scale(1.000,1.184)" d="M28.5,1 L1,19.7 L27,20.5 M28.5,1 L13,31" fill="none" stroke="#000" stroke-width="3.30" stroke-linecap="round" stroke-linejoin="round"/>
<path d="M1558.3,2065.0 C1593.3,2066.7 1623.3,2076.6 1658.3,2078.3" fill="none" stroke="#000" stroke-width="2.4" stroke-linecap="round"/>
<path transform="translate(1523.3,2207.8) scale(1.083,1.077)" d="M28,1 L12,1 L8,13 C11,12 14,11 17,11 C23,11 25,15 24,20 C23,27 16,31 10,31 C6,31 3,29 1,27" fill="none" stroke="#000" stroke-width="3.33" stroke-linecap="round" stroke-linejoin="round"/>
<path transform="translate(1555.8,2207.8) scale(1.083,1.077)" d="M28,1 L12,1 L8,13 C11,12 14,11 17,11 C23,11 25,15 24,20 C23,27 16,31 10,31 C6,31 3,29 1,27" fill="none" stroke="#000" stroke-width="3.33" stroke-linecap="round" stroke-linejoin="round"/>
<path d="M1498.3,2206.7 C1505.3,2206.6 1511.3,2215.1 1518.3,2215.0" fill="none" stroke="#000" stroke-width="2.4" stroke-linecap="round"/>
<text class="sansb" x="1677" y="2952.5" font-size="35" textLength="228" lengthAdjust="spacingAndGlyphs">INVENTORS</text>
<text class="sans" stroke="#000" stroke-width="0.8" xml:space="preserve" transform="translate(1617.7,2990.4) scale(0.82,1)" x="0" y="0" font-size="38" textLength="403.7" lengthAdjust="spacing">YASUHISA  EBINE</text>
<text class="sans" stroke="#000" stroke-width="0.8" xml:space="preserve" transform="translate(1622.9,3023.8) scale(0.82,1)" x="0" y="0" font-size="39" textLength="366.2" lengthAdjust="spacing">MARTIN  BLAKE</text>
<text class="sansb" x="1526.7" y="3049.6" font-size="33" textLength="50.7" lengthAdjust="spacingAndGlyphs">BY</text>
<text class="sansb" x="1659.3" y="3151.6" font-size="37.5" textLength="232" lengthAdjust="spacingAndGlyphs">ATTORNEYS</text>
<path d="M1511,3111 C1522,3107 1535,3103 1548,3100 M1549,3098 C1540,3094 1530,3096 1530,3102 C1531,3109 1545,3110 1551,3102 C1556,3093 1559,3076 1565,3066 C1568,3061 1571,3063 1569,3070 C1566,3082 1561,3096 1557,3102 C1553,3108 1545,3110 1538,3108 M1570,3081 C1578,3081 1588,3082 1594,3083 M1587,3075 C1581,3086 1574,3098 1569,3105 M1569,3105 C1575,3102 1581,3097 1586,3094 C1591,3092 1591,3099 1584,3101 C1579,3103 1583,3106 1591,3105 C1597,3103 1601,3097 1604,3094 C1604,3100 1602,3104 1606,3105 C1612,3104 1616,3097 1621,3095 C1623,3100 1619,3105 1622,3108 C1628,3101 1633,3095 1639,3095 C1642,3099 1640,3105 1647,3106 C1656,3104 1666,3094 1675,3081 C1682,3071 1688,3067 1687,3073 C1684,3083 1672,3097 1666,3106 C1671,3100 1679,3095 1685,3097 C1688,3101 1682,3106 1676,3106 C1686,3105 1694,3099 1700,3095 C1704,3095 1702,3101 1697,3103 C1699,3107 1705,3104 1710,3098 C1712,3102 1713,3106 1716,3105 C1720,3100 1722,3096 1726,3095 C1729,3098 1734,3094 1738,3093 C1742,3094 1740,3101 1735,3103 C1731,3105 1731,3099 1736,3096 C1738,3102 1735,3111 1728,3119 C1722,3126 1712,3133 1707,3130 C1704,3126 1716,3113 1731,3107 C1740,3104 1748,3103 1755,3104 M1762,3092 C1768,3093 1773,3094 1778,3095 M1776,3085 C1772,3091 1767,3096 1764,3101 M1790,3108 C1797,3098 1805,3088 1812,3080 M1807,3082 C1815,3078 1828,3074 1833,3077 C1836,3082 1828,3089 1812,3094 C1822,3094 1828,3097 1826,3102 C1823,3110 1808,3114 1800,3113 C1794,3112 1794,3107 1800,3106 C1812,3105 1825,3107 1838,3107 C1848,3100 1858,3088 1863,3078 C1866,3071 1862,3071 1858,3077 C1850,3088 1843,3100 1841,3106 C1846,3108 1855,3104 1862,3100 C1868,3097 1872,3099 1868,3104 C1864,3108 1860,3104 1866,3100 C1870,3099 1872,3104 1874,3107 C1880,3106 1886,3103 1892,3100 M1927,3077 C1915,3090 1900,3104 1891,3114 M1900,3104 C1908,3098 1918,3094 1925,3095 C1928,3098 1920,3102 1912,3103 C1918,3105 1922,3108 1930,3107 C1936,3104 1942,3100 1946,3098 C1949,3098 1946,3104 1940,3105 C1936,3107 1940,3109 1948,3108 C1958,3107 1966,3106 1972,3106" fill="none" stroke="#000" stroke-width="4.2" stroke-linecap="round" stroke-linejoin="round"/>
<circle cx="1620" cy="3077" r="2.4" fill="#000"/>
</svg>
</body></html>
